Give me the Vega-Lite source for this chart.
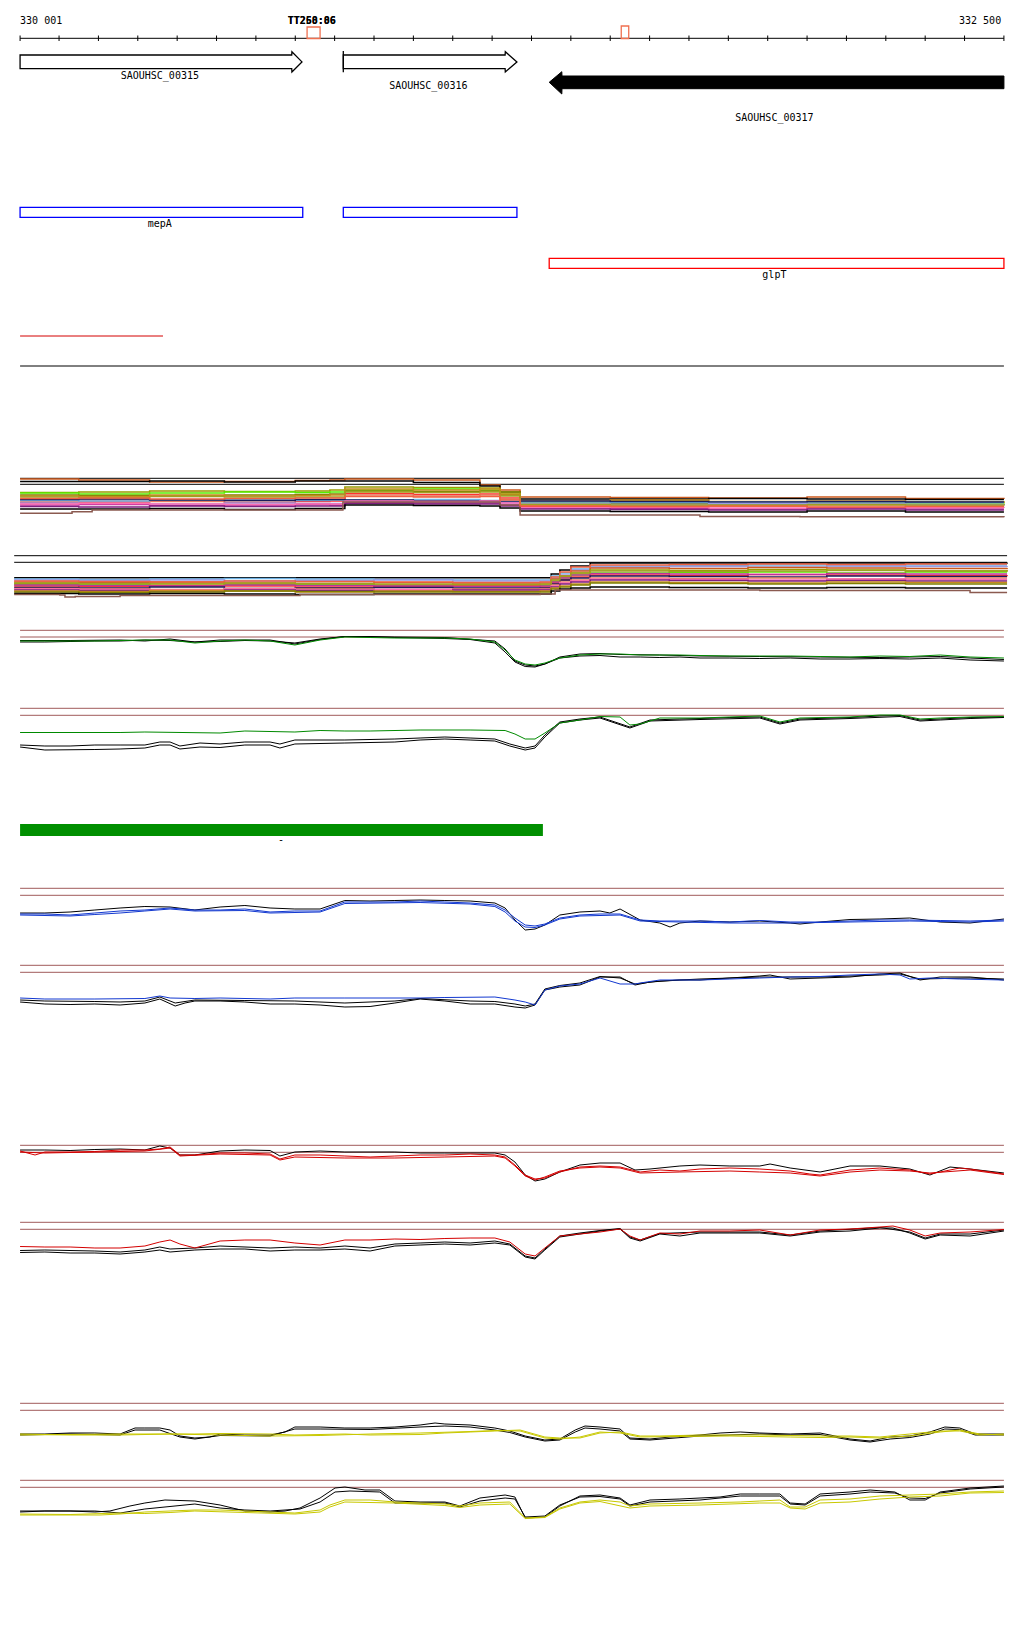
{
"$schema":"https://vega.github.io/schema/vega-lite/v6.json",
"width":1024,"height":1640,"padding":0,
"autosize":{"type":"fit","contains":"padding"},
"background":"white",
"config":{"view":{"stroke":null}},
"datasets":{
"hrules":[
{"k":"ctl","x":330001,"x2":332500,"y":38.3},
{"k":"c3","x":330001,"x2":330364,"y":336},
{"k":"ctl","x":330001,"x2":332500,"y":366},
{"k":"ctl","x":330001,"x2":332500,"y":478.3},
{"k":"ctl","x":330001,"x2":332500,"y":484.3},
{"k":"ctl","x":329986,"x2":332508,"y":555.7},
{"k":"ctl","x":329986,"x2":332508,"y":562.3},
{"k":"ref","x":330001,"x2":332500,"y":630.3},
{"k":"ref","x":330001,"x2":332500,"y":637},
{"k":"ref","x":330001,"x2":332500,"y":708.3},
{"k":"ref","x":330001,"x2":332500,"y":715.3},
{"k":"ref","x":330001,"x2":332500,"y":888.3},
{"k":"ref","x":330001,"x2":332500,"y":895.3},
{"k":"ref","x":330001,"x2":332500,"y":965.3},
{"k":"ref","x":330001,"x2":332500,"y":972.3},
{"k":"ref","x":330001,"x2":332500,"y":1145.3},
{"k":"ref","x":330001,"x2":332500,"y":1152.3},
{"k":"ref","x":330001,"x2":332500,"y":1222.3},
{"k":"ref","x":330001,"x2":332500,"y":1229.3},
{"k":"ref","x":330001,"x2":332500,"y":1403.3},
{"k":"ref","x":330001,"x2":332500,"y":1410.3},
{"k":"ref","x":330001,"x2":332500,"y":1480.3},
{"k":"ref","x":330001,"x2":332500,"y":1487.3}
],
"ticks":[{"x":330001,"y":35.5,"y2":41},{"x":330100,"y":35.5,"y2":41},{"x":330200,"y":35.5,"y2":41},{"x":330300,"y":35.5,"y2":41},{"x":330400,"y":35.5,"y2":41},{"x":330500,"y":35.5,"y2":41},{"x":330600,"y":35.5,"y2":41},{"x":330700,"y":35.5,"y2":41},{"x":330800,"y":35.5,"y2":41},{"x":330900,"y":35.5,"y2":41},{"x":331000,"y":35.5,"y2":41},{"x":331100,"y":35.5,"y2":41},{"x":331200,"y":35.5,"y2":41},{"x":331300,"y":35.5,"y2":41},{"x":331400,"y":35.5,"y2":41},{"x":331500,"y":35.5,"y2":41},{"x":331600,"y":35.5,"y2":41},{"x":331700,"y":35.5,"y2":41},{"x":331800,"y":35.5,"y2":41},{"x":331900,"y":35.5,"y2":41},{"x":332000,"y":35.5,"y2":41},{"x":332100,"y":35.5,"y2":41},{"x":332200,"y":35.5,"y2":41},{"x":332300,"y":35.5,"y2":41},{"x":332400,"y":35.5,"y2":41},{"x":332500,"y":35.5,"y2":41}],
"boxes":[
{"k":"ax","x":330730,"x2":330763,"y":27,"y2":38.5},
{"k":"ax","x":331528,"x2":331547,"y":26,"y2":38.5},
{"k":"bx","x":330001,"x2":330719,"y":207.3,"y2":217.3},
{"k":"bx","x":330822,"x2":331263,"y":207.3,"y2":217.3},
{"k":"rx","x":331345,"x2":332500,"y":258.3,"y2":268.3}
],
"bars":[{"x":330001,"x2":331329,"y":824,"y2":836}],
"openarrows":[
{"g":"a315","x":330001,"y":55,"y2":68.7},{"g":"a315","x":330691,"y":55,"y2":68.7},{"g":"a315","x":330691.5,"y":51.7,"y2":72},{"g":"a315","x":330717,"y":61.9,"y2":61.9},
{"g":"a316","x":330822,"y":55,"y2":68.7},{"g":"a316","x":331233,"y":55,"y2":68.7},{"g":"a316","x":331233.5,"y":51.7,"y2":72},{"g":"a316","x":331263,"y":61.9,"y2":61.9}
],
"filledarrows":[
{"g":"a317","x":331345,"y":82.3,"y2":82.3},{"g":"a317","x":331377,"y":71.7,"y2":94},{"g":"a317","x":331377.5,"y":76,"y2":88.7},{"g":"a317","x":332500,"y":76,"y2":88.7}
],
"vbars":[{"x":330822,"y":51,"y2":72.3}],
"labels":[
{"t":"SAOUHSC_00315","x":330356,"y":76},
{"t":"SAOUHSC_00316","x":331038,"y":85.5},
{"t":"SAOUHSC_00317","x":331917,"y":117.5},
{"t":"mepA","x":330356,"y":224},
{"t":"glpT","x":331917,"y":275},
{"t":"-","x":330664,"y":840}
],
"boldlabels":[{"t":"TT258:86","x":330742,"y":21},{"t":"TT260:06","x":330742,"y":21}],
"leftlabels":[{"t":"330 001","x":330001,"y":20.5}],
"rightlabels":[{"t":"332 500","x":332493,"y":20.5}],
"multi":[
{"s":"m1p1","k":"p1","x":330001,"y":479},{"s":"m1p1","k":"p1","x":330150,"y":480},{"s":"m1p1","k":"p1","x":330330,"y":482},{"s":"m1p1","k":"p1","x":330520,"y":481.5},{"s":"m1p1","k":"p1","x":330700,"y":480.5},{"s":"m1p1","k":"p1","x":330788,"y":480},{"s":"m1p1","k":"p1","x":330826,"y":479},{"s":"m1p1","k":"p1","x":331000,"y":480},{"s":"m1p1","k":"p1","x":331169,"y":485},{"s":"m1p1","k":"p1","x":331220,"y":490},{"s":"m1p1","k":"p1","x":331271,"y":497},{"s":"m1p1","k":"p1","x":331500,"y":497.5},{"s":"m1p1","k":"p1","x":331750,"y":498},{"s":"m1p1","k":"p1","x":332000,"y":497},{"s":"m1p1","k":"p1","x":332250,"y":498.5},{"s":"m1p1","k":"p1","x":332500,"y":499},
{"s":"m1p2","k":"ctl","x":330001,"y":481.5},{"s":"m1p2","k":"ctl","x":330150,"y":481.5},{"s":"m1p2","k":"ctl","x":330330,"y":481},{"s":"m1p2","k":"ctl","x":330520,"y":482},{"s":"m1p2","k":"ctl","x":330700,"y":481},{"s":"m1p2","k":"ctl","x":330788,"y":481},{"s":"m1p2","k":"ctl","x":330826,"y":481},{"s":"m1p2","k":"ctl","x":331000,"y":482.5},{"s":"m1p2","k":"ctl","x":331169,"y":486},{"s":"m1p2","k":"ctl","x":331220,"y":492},{"s":"m1p2","k":"ctl","x":331271,"y":499},{"s":"m1p2","k":"ctl","x":331500,"y":499},{"s":"m1p2","k":"ctl","x":331750,"y":498.5},{"s":"m1p2","k":"ctl","x":332000,"y":499},{"s":"m1p2","k":"ctl","x":332250,"y":499.5},{"s":"m1p2","k":"ctl","x":332500,"y":499.5},
{"s":"m1p3","k":"p3","x":330001,"y":492.5},{"s":"m1p3","k":"p3","x":330150,"y":492},{"s":"m1p3","k":"p3","x":330330,"y":491},{"s":"m1p3","k":"p3","x":330520,"y":491.5},{"s":"m1p3","k":"p3","x":330700,"y":491},{"s":"m1p3","k":"p3","x":330788,"y":490},{"s":"m1p3","k":"p3","x":330826,"y":487},{"s":"m1p3","k":"p3","x":331000,"y":487.5},{"s":"m1p3","k":"p3","x":331169,"y":488},{"s":"m1p3","k":"p3","x":331220,"y":492},{"s":"m1p3","k":"p3","x":331271,"y":502},{"s":"m1p3","k":"p3","x":331500,"y":501},{"s":"m1p3","k":"p3","x":331750,"y":502.5},{"s":"m1p3","k":"p3","x":332000,"y":503},{"s":"m1p3","k":"p3","x":332250,"y":502},{"s":"m1p3","k":"p3","x":332500,"y":503},
{"s":"m1p4","k":"p4","x":330001,"y":493},{"s":"m1p4","k":"p4","x":330150,"y":494},{"s":"m1p4","k":"p4","x":330330,"y":493},{"s":"m1p4","k":"p4","x":330520,"y":492},{"s":"m1p4","k":"p4","x":330700,"y":492.5},{"s":"m1p4","k":"p4","x":330788,"y":492},{"s":"m1p4","k":"p4","x":330826,"y":490},{"s":"m1p4","k":"p4","x":331000,"y":489},{"s":"m1p4","k":"p4","x":331169,"y":490},{"s":"m1p4","k":"p4","x":331220,"y":494},{"s":"m1p4","k":"p4","x":331271,"y":505},{"s":"m1p4","k":"p4","x":331500,"y":504},{"s":"m1p4","k":"p4","x":331750,"y":503.5},{"s":"m1p4","k":"p4","x":332000,"y":505},{"s":"m1p4","k":"p4","x":332250,"y":504},{"s":"m1p4","k":"p4","x":332500,"y":505},
{"s":"m1p5","k":"p5","x":330001,"y":495},{"s":"m1p5","k":"p5","x":330150,"y":495.5},{"s":"m1p5","k":"p5","x":330330,"y":496},{"s":"m1p5","k":"p5","x":330520,"y":495},{"s":"m1p5","k":"p5","x":330700,"y":494.5},{"s":"m1p5","k":"p5","x":330788,"y":494},{"s":"m1p5","k":"p5","x":330826,"y":491},{"s":"m1p5","k":"p5","x":331000,"y":491.5},{"s":"m1p5","k":"p5","x":331169,"y":491},{"s":"m1p5","k":"p5","x":331220,"y":495},{"s":"m1p5","k":"p5","x":331271,"y":503},{"s":"m1p5","k":"p5","x":331500,"y":503.5},{"s":"m1p5","k":"p5","x":331750,"y":504},{"s":"m1p5","k":"p5","x":332000,"y":503},{"s":"m1p5","k":"p5","x":332250,"y":504.5},{"s":"m1p5","k":"p5","x":332500,"y":504},
{"s":"m1p6","k":"p6","x":330001,"y":496},{"s":"m1p6","k":"p6","x":330150,"y":496.5},{"s":"m1p6","k":"p6","x":330330,"y":495},{"s":"m1p6","k":"p6","x":330520,"y":496},{"s":"m1p6","k":"p6","x":330700,"y":495.5},{"s":"m1p6","k":"p6","x":330788,"y":495},{"s":"m1p6","k":"p6","x":330826,"y":489},{"s":"m1p6","k":"p6","x":331000,"y":490},{"s":"m1p6","k":"p6","x":331169,"y":489},{"s":"m1p6","k":"p6","x":331220,"y":494},{"s":"m1p6","k":"p6","x":331271,"y":501},{"s":"m1p6","k":"p6","x":331500,"y":500},{"s":"m1p6","k":"p6","x":331750,"y":501.5},{"s":"m1p6","k":"p6","x":332000,"y":501},{"s":"m1p6","k":"p6","x":332250,"y":502},{"s":"m1p6","k":"p6","x":332500,"y":501.5},
{"s":"m1p7","k":"p7","x":330001,"y":502.5},{"s":"m1p7","k":"p7","x":330150,"y":502},{"s":"m1p7","k":"p7","x":330330,"y":501},{"s":"m1p7","k":"p7","x":330520,"y":502.5},{"s":"m1p7","k":"p7","x":330700,"y":501.5},{"s":"m1p7","k":"p7","x":330788,"y":501},{"s":"m1p7","k":"p7","x":330826,"y":493.5},{"s":"m1p7","k":"p7","x":331000,"y":494.5},{"s":"m1p7","k":"p7","x":331169,"y":494},{"s":"m1p7","k":"p7","x":331220,"y":498},{"s":"m1p7","k":"p7","x":331271,"y":506.5},{"s":"m1p7","k":"p7","x":331500,"y":507},{"s":"m1p7","k":"p7","x":331750,"y":506},{"s":"m1p7","k":"p7","x":332000,"y":507.5},{"s":"m1p7","k":"p7","x":332250,"y":507},{"s":"m1p7","k":"p7","x":332500,"y":507},
{"s":"m1p8","k":"p8","x":330001,"y":501},{"s":"m1p8","k":"p8","x":330150,"y":500},{"s":"m1p8","k":"p8","x":330330,"y":501.5},{"s":"m1p8","k":"p8","x":330520,"y":500.5},{"s":"m1p8","k":"p8","x":330700,"y":500},{"s":"m1p8","k":"p8","x":330788,"y":500},{"s":"m1p8","k":"p8","x":330826,"y":495},{"s":"m1p8","k":"p8","x":331000,"y":496},{"s":"m1p8","k":"p8","x":331169,"y":495},{"s":"m1p8","k":"p8","x":331220,"y":499},{"s":"m1p8","k":"p8","x":331271,"y":505},{"s":"m1p8","k":"p8","x":331500,"y":505.5},{"s":"m1p8","k":"p8","x":331750,"y":506},{"s":"m1p8","k":"p8","x":332000,"y":505},{"s":"m1p8","k":"p8","x":332250,"y":506},{"s":"m1p8","k":"p8","x":332500,"y":506},
{"s":"m1p9","k":"p9","x":330001,"y":500.5},{"s":"m1p9","k":"p9","x":330150,"y":501},{"s":"m1p9","k":"p9","x":330330,"y":500},{"s":"m1p9","k":"p9","x":330520,"y":499.5},{"s":"m1p9","k":"p9","x":330700,"y":500.5},{"s":"m1p9","k":"p9","x":330788,"y":500},{"s":"m1p9","k":"p9","x":330826,"y":500},{"s":"m1p9","k":"p9","x":331000,"y":499.5},{"s":"m1p9","k":"p9","x":331169,"y":500.5},{"s":"m1p9","k":"p9","x":331220,"y":501},{"s":"m1p9","k":"p9","x":331271,"y":502},{"s":"m1p9","k":"p9","x":331500,"y":502.5},{"s":"m1p9","k":"p9","x":331750,"y":502},{"s":"m1p9","k":"p9","x":332000,"y":503},{"s":"m1p9","k":"p9","x":332250,"y":502.5},{"s":"m1p9","k":"p9","x":332500,"y":502.5},
{"s":"m1p10","k":"p10","x":330001,"y":499.5},{"s":"m1p10","k":"p10","x":330150,"y":499},{"s":"m1p10","k":"p10","x":330330,"y":500},{"s":"m1p10","k":"p10","x":330520,"y":500.5},{"s":"m1p10","k":"p10","x":330700,"y":499.5},{"s":"m1p10","k":"p10","x":330788,"y":499.5},{"s":"m1p10","k":"p10","x":330826,"y":500},{"s":"m1p10","k":"p10","x":331000,"y":501},{"s":"m1p10","k":"p10","x":331169,"y":501},{"s":"m1p10","k":"p10","x":331220,"y":502},{"s":"m1p10","k":"p10","x":331271,"y":501},{"s":"m1p10","k":"p10","x":331500,"y":501.5},{"s":"m1p10","k":"p10","x":331750,"y":502},{"s":"m1p10","k":"p10","x":332000,"y":501.5},{"s":"m1p10","k":"p10","x":332250,"y":502},{"s":"m1p10","k":"p10","x":332500,"y":502},
{"s":"m1p11","k":"p11","x":330001,"y":503},{"s":"m1p11","k":"p11","x":330150,"y":503.5},{"s":"m1p11","k":"p11","x":330330,"y":504},{"s":"m1p11","k":"p11","x":330520,"y":503},{"s":"m1p11","k":"p11","x":330700,"y":503.5},{"s":"m1p11","k":"p11","x":330788,"y":503.5},{"s":"m1p11","k":"p11","x":330826,"y":502},{"s":"m1p11","k":"p11","x":331000,"y":502.5},{"s":"m1p11","k":"p11","x":331169,"y":502},{"s":"m1p11","k":"p11","x":331220,"y":503},{"s":"m1p11","k":"p11","x":331271,"y":504},{"s":"m1p11","k":"p11","x":331500,"y":504.5},{"s":"m1p11","k":"p11","x":331750,"y":503.5},{"s":"m1p11","k":"p11","x":332000,"y":504},{"s":"m1p11","k":"p11","x":332250,"y":504.5},{"s":"m1p11","k":"p11","x":332500,"y":504},
{"s":"m1p12","k":"p12","x":330001,"y":505},{"s":"m1p12","k":"p12","x":330150,"y":504.5},{"s":"m1p12","k":"p12","x":330330,"y":505.5},{"s":"m1p12","k":"p12","x":330520,"y":505},{"s":"m1p12","k":"p12","x":330700,"y":504.5},{"s":"m1p12","k":"p12","x":330788,"y":505},{"s":"m1p12","k":"p12","x":330826,"y":502.5},{"s":"m1p12","k":"p12","x":331000,"y":503},{"s":"m1p12","k":"p12","x":331169,"y":503},{"s":"m1p12","k":"p12","x":331220,"y":505},{"s":"m1p12","k":"p12","x":331271,"y":508},{"s":"m1p12","k":"p12","x":331500,"y":508.5},{"s":"m1p12","k":"p12","x":331750,"y":509},{"s":"m1p12","k":"p12","x":332000,"y":508},{"s":"m1p12","k":"p12","x":332250,"y":509},{"s":"m1p12","k":"p12","x":332500,"y":509},
{"s":"m1p13","k":"p13","x":330001,"y":504},{"s":"m1p13","k":"p13","x":330150,"y":503.5},{"s":"m1p13","k":"p13","x":330330,"y":504},{"s":"m1p13","k":"p13","x":330520,"y":504.5},{"s":"m1p13","k":"p13","x":330700,"y":504},{"s":"m1p13","k":"p13","x":330788,"y":504},{"s":"m1p13","k":"p13","x":330826,"y":501},{"s":"m1p13","k":"p13","x":331000,"y":501.5},{"s":"m1p13","k":"p13","x":331169,"y":501},{"s":"m1p13","k":"p13","x":331220,"y":503},{"s":"m1p13","k":"p13","x":331271,"y":507.5},{"s":"m1p13","k":"p13","x":331500,"y":507},{"s":"m1p13","k":"p13","x":331750,"y":508},{"s":"m1p13","k":"p13","x":332000,"y":508.5},{"s":"m1p13","k":"p13","x":332250,"y":507.5},{"s":"m1p13","k":"p13","x":332500,"y":508},
{"s":"m1p14","k":"p14","x":330001,"y":506.5},{"s":"m1p14","k":"p14","x":330150,"y":507},{"s":"m1p14","k":"p14","x":330330,"y":506},{"s":"m1p14","k":"p14","x":330520,"y":506.5},{"s":"m1p14","k":"p14","x":330700,"y":506},{"s":"m1p14","k":"p14","x":330788,"y":506},{"s":"m1p14","k":"p14","x":330826,"y":503.5},{"s":"m1p14","k":"p14","x":331000,"y":504},{"s":"m1p14","k":"p14","x":331169,"y":504},{"s":"m1p14","k":"p14","x":331220,"y":506},{"s":"m1p14","k":"p14","x":331271,"y":509},{"s":"m1p14","k":"p14","x":331500,"y":509.5},{"s":"m1p14","k":"p14","x":331750,"y":510},{"s":"m1p14","k":"p14","x":332000,"y":509},{"s":"m1p14","k":"p14","x":332250,"y":510},{"s":"m1p14","k":"p14","x":332500,"y":510},
{"s":"m1p15","k":"ctl","x":330001,"y":509},{"s":"m1p15","k":"ctl","x":330150,"y":509},{"s":"m1p15","k":"ctl","x":330330,"y":508.5},{"s":"m1p15","k":"ctl","x":330520,"y":509.5},{"s":"m1p15","k":"ctl","x":330700,"y":508.5},{"s":"m1p15","k":"ctl","x":330788,"y":508.5},{"s":"m1p15","k":"ctl","x":330826,"y":505},{"s":"m1p15","k":"ctl","x":331000,"y":505.5},{"s":"m1p15","k":"ctl","x":331169,"y":506},{"s":"m1p15","k":"ctl","x":331220,"y":508},{"s":"m1p15","k":"ctl","x":331271,"y":511},{"s":"m1p15","k":"ctl","x":331500,"y":511.5},{"s":"m1p15","k":"ctl","x":331750,"y":512},{"s":"m1p15","k":"ctl","x":332000,"y":511},{"s":"m1p15","k":"ctl","x":332250,"y":512},{"s":"m1p15","k":"ctl","x":332500,"y":512},
{"s":"m1p16","k":"p16","x":330001,"y":513.3},{"s":"m1p16","k":"p16","x":330123,"y":513.3},{"s":"m1p16","k":"p16","x":330133,"y":511.7},{"s":"m1p16","k":"p16","x":330179,"y":511.7},{"s":"m1p16","k":"p16","x":330184,"y":510},{"s":"m1p16","k":"p16","x":330788,"y":510},{"s":"m1p16","k":"p16","x":330821,"y":502},{"s":"m1p16","k":"p16","x":331169,"y":502},{"s":"m1p16","k":"p16","x":331220,"y":505},{"s":"m1p16","k":"p16","x":331271,"y":515},{"s":"m1p16","k":"p16","x":331728,"y":516.5},{"s":"m1p16","k":"p16","x":331982,"y":516.7},{"s":"m1p16","k":"p16","x":332500,"y":517.3},
{"s":"m1p17","k":"p17","x":330001,"y":497},{"s":"m1p17","k":"p17","x":330150,"y":497.5},{"s":"m1p17","k":"p17","x":330330,"y":496.5},{"s":"m1p17","k":"p17","x":330520,"y":497},{"s":"m1p17","k":"p17","x":330700,"y":497},{"s":"m1p17","k":"p17","x":330788,"y":497},{"s":"m1p17","k":"p17","x":330826,"y":492},{"s":"m1p17","k":"p17","x":331000,"y":492.5},{"s":"m1p17","k":"p17","x":331169,"y":492},{"s":"m1p17","k":"p17","x":331220,"y":496},{"s":"m1p17","k":"p17","x":331271,"y":504.5},{"s":"m1p17","k":"p17","x":331500,"y":505},{"s":"m1p17","k":"p17","x":331750,"y":505.5},{"s":"m1p17","k":"p17","x":332000,"y":504.5},{"s":"m1p17","k":"p17","x":332250,"y":505},{"s":"m1p17","k":"p17","x":332500,"y":505.5},
{"s":"m1p18","k":"p18","x":330001,"y":498.5},{"s":"m1p18","k":"p18","x":330150,"y":498},{"s":"m1p18","k":"p18","x":330330,"y":499},{"s":"m1p18","k":"p18","x":330520,"y":498.5},{"s":"m1p18","k":"p18","x":330700,"y":498},{"s":"m1p18","k":"p18","x":330788,"y":498},{"s":"m1p18","k":"p18","x":330826,"y":496.5},{"s":"m1p18","k":"p18","x":331000,"y":497},{"s":"m1p18","k":"p18","x":331169,"y":496.5},{"s":"m1p18","k":"p18","x":331220,"y":500},{"s":"m1p18","k":"p18","x":331271,"y":506},{"s":"m1p18","k":"p18","x":331500,"y":506.5},{"s":"m1p18","k":"p18","x":331750,"y":506},{"s":"m1p18","k":"p18","x":332000,"y":507},{"s":"m1p18","k":"p18","x":332250,"y":506.5},{"s":"m1p18","k":"p18","x":332500,"y":506.5},
{"s":"m2q1","k":"ctl","x":329986,"y":577.7},{"s":"m2q1","k":"ctl","x":331322,"y":577.7},{"s":"m2q1","k":"ctl","x":331350,"y":574},{"s":"m2q1","k":"ctl","x":331372,"y":570},{"s":"m2q1","k":"ctl","x":331400,"y":566},{"s":"m2q1","k":"ctl","x":331449,"y":563},{"s":"m2q1","k":"ctl","x":332508,"y":562.5},
{"s":"m2q2","k":"p9","x":329986,"y":579},{"s":"m2q2","k":"p9","x":330150,"y":579.5},{"s":"m2q2","k":"p9","x":330330,"y":579},{"s":"m2q2","k":"p9","x":330520,"y":578.5},{"s":"m2q2","k":"p9","x":330700,"y":579},{"s":"m2q2","k":"p9","x":330900,"y":579.5},{"s":"m2q2","k":"p9","x":331100,"y":580},{"s":"m2q2","k":"p9","x":331322,"y":580},{"s":"m2q2","k":"p9","x":331350,"y":576},{"s":"m2q2","k":"p9","x":331372,"y":573},{"s":"m2q2","k":"p9","x":331400,"y":569},{"s":"m2q2","k":"p9","x":331449,"y":566},{"s":"m2q2","k":"p9","x":331650,"y":565.5},{"s":"m2q2","k":"p9","x":331850,"y":565},{"s":"m2q2","k":"p9","x":332050,"y":566},{"s":"m2q2","k":"p9","x":332250,"y":565},{"s":"m2q2","k":"p9","x":332508,"y":565},
{"s":"m2q3","k":"p11","x":329986,"y":580},{"s":"m2q3","k":"p11","x":330150,"y":580.5},{"s":"m2q3","k":"p11","x":330330,"y":580},{"s":"m2q3","k":"p11","x":330520,"y":581},{"s":"m2q3","k":"p11","x":330700,"y":580.5},{"s":"m2q3","k":"p11","x":330900,"y":580},{"s":"m2q3","k":"p11","x":331100,"y":581},{"s":"m2q3","k":"p11","x":331322,"y":581},{"s":"m2q3","k":"p11","x":331350,"y":578},{"s":"m2q3","k":"p11","x":331372,"y":575},{"s":"m2q3","k":"p11","x":331400,"y":570},{"s":"m2q3","k":"p11","x":331449,"y":567},{"s":"m2q3","k":"p11","x":331650,"y":566.5},{"s":"m2q3","k":"p11","x":331850,"y":567},{"s":"m2q3","k":"p11","x":332050,"y":566},{"s":"m2q3","k":"p11","x":332250,"y":566.5},{"s":"m2q3","k":"p11","x":332508,"y":566},
{"s":"m2q4","k":"p1","x":329986,"y":582},{"s":"m2q4","k":"p1","x":330150,"y":582.5},{"s":"m2q4","k":"p1","x":330330,"y":582},{"s":"m2q4","k":"p1","x":330520,"y":583},{"s":"m2q4","k":"p1","x":330700,"y":583.5},{"s":"m2q4","k":"p1","x":330900,"y":582.5},{"s":"m2q4","k":"p1","x":331100,"y":583},{"s":"m2q4","k":"p1","x":331322,"y":583},{"s":"m2q4","k":"p1","x":331350,"y":579},{"s":"m2q4","k":"p1","x":331372,"y":576},{"s":"m2q4","k":"p1","x":331400,"y":571},{"s":"m2q4","k":"p1","x":331449,"y":568},{"s":"m2q4","k":"p1","x":331650,"y":568.5},{"s":"m2q4","k":"p1","x":331850,"y":567.5},{"s":"m2q4","k":"p1","x":332050,"y":568},{"s":"m2q4","k":"p1","x":332250,"y":568.5},{"s":"m2q4","k":"p1","x":332508,"y":568},
{"s":"m2q5","k":"p3","x":329986,"y":583.5},{"s":"m2q5","k":"p3","x":330150,"y":584},{"s":"m2q5","k":"p3","x":330330,"y":583},{"s":"m2q5","k":"p3","x":330520,"y":584.5},{"s":"m2q5","k":"p3","x":330700,"y":584},{"s":"m2q5","k":"p3","x":330900,"y":585},{"s":"m2q5","k":"p3","x":331100,"y":584.5},{"s":"m2q5","k":"p3","x":331322,"y":585},{"s":"m2q5","k":"p3","x":331350,"y":581},{"s":"m2q5","k":"p3","x":331372,"y":577},{"s":"m2q5","k":"p3","x":331400,"y":573},{"s":"m2q5","k":"p3","x":331449,"y":570},{"s":"m2q5","k":"p3","x":331650,"y":570.5},{"s":"m2q5","k":"p3","x":331850,"y":569.5},{"s":"m2q5","k":"p3","x":332050,"y":570},{"s":"m2q5","k":"p3","x":332250,"y":571},{"s":"m2q5","k":"p3","x":332508,"y":570},
{"s":"m2q6","k":"p4","x":329986,"y":584.5},{"s":"m2q6","k":"p4","x":330150,"y":585},{"s":"m2q6","k":"p4","x":330330,"y":585.5},{"s":"m2q6","k":"p4","x":330520,"y":584.5},{"s":"m2q6","k":"p4","x":330700,"y":585},{"s":"m2q6","k":"p4","x":330900,"y":586},{"s":"m2q6","k":"p4","x":331100,"y":585},{"s":"m2q6","k":"p4","x":331322,"y":585.5},{"s":"m2q6","k":"p4","x":331350,"y":582},{"s":"m2q6","k":"p4","x":331372,"y":579},{"s":"m2q6","k":"p4","x":331400,"y":575},{"s":"m2q6","k":"p4","x":331449,"y":573},{"s":"m2q6","k":"p4","x":331650,"y":572.5},{"s":"m2q6","k":"p4","x":331850,"y":572},{"s":"m2q6","k":"p4","x":332050,"y":573},{"s":"m2q6","k":"p4","x":332250,"y":572},{"s":"m2q6","k":"p4","x":332508,"y":572},
{"s":"m2q7","k":"p7","x":329986,"y":586},{"s":"m2q7","k":"p7","x":330150,"y":586.5},{"s":"m2q7","k":"p7","x":330330,"y":585.5},{"s":"m2q7","k":"p7","x":330520,"y":586},{"s":"m2q7","k":"p7","x":330700,"y":587},{"s":"m2q7","k":"p7","x":330900,"y":586.5},{"s":"m2q7","k":"p7","x":331100,"y":586},{"s":"m2q7","k":"p7","x":331322,"y":587},{"s":"m2q7","k":"p7","x":331350,"y":583},{"s":"m2q7","k":"p7","x":331372,"y":580},{"s":"m2q7","k":"p7","x":331400,"y":577},{"s":"m2q7","k":"p7","x":331449,"y":575},{"s":"m2q7","k":"p7","x":331650,"y":575.5},{"s":"m2q7","k":"p7","x":331850,"y":574.5},{"s":"m2q7","k":"p7","x":332050,"y":575},{"s":"m2q7","k":"p7","x":332250,"y":575.5},{"s":"m2q7","k":"p7","x":332508,"y":575},
{"s":"m2q8","k":"p12","x":329986,"y":585},{"s":"m2q8","k":"p12","x":330150,"y":585.5},{"s":"m2q8","k":"p12","x":330330,"y":586},{"s":"m2q8","k":"p12","x":330520,"y":585},{"s":"m2q8","k":"p12","x":330700,"y":585.5},{"s":"m2q8","k":"p12","x":330900,"y":586},{"s":"m2q8","k":"p12","x":331100,"y":586.5},{"s":"m2q8","k":"p12","x":331322,"y":586},{"s":"m2q8","k":"p12","x":331350,"y":582},{"s":"m2q8","k":"p12","x":331372,"y":578},{"s":"m2q8","k":"p12","x":331400,"y":575},{"s":"m2q8","k":"p12","x":331449,"y":573.5},{"s":"m2q8","k":"p12","x":331650,"y":574},{"s":"m2q8","k":"p12","x":331850,"y":574.5},{"s":"m2q8","k":"p12","x":332050,"y":573.5},{"s":"m2q8","k":"p12","x":332250,"y":574},{"s":"m2q8","k":"p12","x":332508,"y":574},
{"s":"m2q9","k":"p10","x":329986,"y":587.5},{"s":"m2q9","k":"p10","x":330150,"y":588},{"s":"m2q9","k":"p10","x":330330,"y":587},{"s":"m2q9","k":"p10","x":330520,"y":588.5},{"s":"m2q9","k":"p10","x":330700,"y":588},{"s":"m2q9","k":"p10","x":330900,"y":587.5},{"s":"m2q9","k":"p10","x":331100,"y":588},{"s":"m2q9","k":"p10","x":331322,"y":588},{"s":"m2q9","k":"p10","x":331350,"y":584},{"s":"m2q9","k":"p10","x":331372,"y":580},{"s":"m2q9","k":"p10","x":331400,"y":578},{"s":"m2q9","k":"p10","x":331449,"y":576},{"s":"m2q9","k":"p10","x":331650,"y":576.5},{"s":"m2q9","k":"p10","x":331850,"y":577},{"s":"m2q9","k":"p10","x":332050,"y":576},{"s":"m2q9","k":"p10","x":332250,"y":576.5},{"s":"m2q9","k":"p10","x":332508,"y":576.5},
{"s":"m2q10","k":"p8","x":329986,"y":588.5},{"s":"m2q10","k":"p8","x":330150,"y":589},{"s":"m2q10","k":"p8","x":330330,"y":589.5},{"s":"m2q10","k":"p8","x":330520,"y":588.5},{"s":"m2q10","k":"p8","x":330700,"y":589},{"s":"m2q10","k":"p8","x":330900,"y":589.5},{"s":"m2q10","k":"p8","x":331100,"y":589},{"s":"m2q10","k":"p8","x":331322,"y":589},{"s":"m2q10","k":"p8","x":331350,"y":585},{"s":"m2q10","k":"p8","x":331372,"y":582},{"s":"m2q10","k":"p8","x":331400,"y":580},{"s":"m2q10","k":"p8","x":331449,"y":578},{"s":"m2q10","k":"p8","x":331650,"y":578.5},{"s":"m2q10","k":"p8","x":331850,"y":578},{"s":"m2q10","k":"p8","x":332050,"y":579},{"s":"m2q10","k":"p8","x":332250,"y":578},{"s":"m2q10","k":"p8","x":332508,"y":578},
{"s":"m2q11","k":"p13","x":329986,"y":589},{"s":"m2q11","k":"p13","x":330150,"y":589.5},{"s":"m2q11","k":"p13","x":330330,"y":590},{"s":"m2q11","k":"p13","x":330520,"y":589},{"s":"m2q11","k":"p13","x":330700,"y":590},{"s":"m2q11","k":"p13","x":330900,"y":589.5},{"s":"m2q11","k":"p13","x":331100,"y":590},{"s":"m2q11","k":"p13","x":331322,"y":589.5},{"s":"m2q11","k":"p13","x":331350,"y":586},{"s":"m2q11","k":"p13","x":331372,"y":583},{"s":"m2q11","k":"p13","x":331400,"y":581},{"s":"m2q11","k":"p13","x":331449,"y":579},{"s":"m2q11","k":"p13","x":331650,"y":579.5},{"s":"m2q11","k":"p13","x":331850,"y":580},{"s":"m2q11","k":"p13","x":332050,"y":579},{"s":"m2q11","k":"p13","x":332250,"y":579.5},{"s":"m2q11","k":"p13","x":332508,"y":579.5},
{"s":"m2q12","k":"p14","x":329986,"y":590},{"s":"m2q12","k":"p14","x":330150,"y":590.5},{"s":"m2q12","k":"p14","x":330330,"y":591},{"s":"m2q12","k":"p14","x":330520,"y":590},{"s":"m2q12","k":"p14","x":330700,"y":590.5},{"s":"m2q12","k":"p14","x":330900,"y":591},{"s":"m2q12","k":"p14","x":331100,"y":590},{"s":"m2q12","k":"p14","x":331322,"y":590},{"s":"m2q12","k":"p14","x":331350,"y":587},{"s":"m2q12","k":"p14","x":331372,"y":584},{"s":"m2q12","k":"p14","x":331400,"y":582},{"s":"m2q12","k":"p14","x":331449,"y":580},{"s":"m2q12","k":"p14","x":331650,"y":580.5},{"s":"m2q12","k":"p14","x":331850,"y":581},{"s":"m2q12","k":"p14","x":332050,"y":580.5},{"s":"m2q12","k":"p14","x":332250,"y":581},{"s":"m2q12","k":"p14","x":332508,"y":581},
{"s":"m2q13","k":"p6","x":329986,"y":591},{"s":"m2q13","k":"p6","x":330150,"y":591.5},{"s":"m2q13","k":"p6","x":330330,"y":590.5},{"s":"m2q13","k":"p6","x":330520,"y":591},{"s":"m2q13","k":"p6","x":330700,"y":592},{"s":"m2q13","k":"p6","x":330900,"y":591},{"s":"m2q13","k":"p6","x":331100,"y":591.5},{"s":"m2q13","k":"p6","x":331322,"y":591},{"s":"m2q13","k":"p6","x":331350,"y":588},{"s":"m2q13","k":"p6","x":331372,"y":586},{"s":"m2q13","k":"p6","x":331400,"y":584},{"s":"m2q13","k":"p6","x":331449,"y":582},{"s":"m2q13","k":"p6","x":331650,"y":582.5},{"s":"m2q13","k":"p6","x":331850,"y":583},{"s":"m2q13","k":"p6","x":332050,"y":582},{"s":"m2q13","k":"p6","x":332250,"y":582.5},{"s":"m2q13","k":"p6","x":332508,"y":582.5},
{"s":"m2q14","k":"p5","x":329986,"y":592},{"s":"m2q14","k":"p5","x":330150,"y":592.5},{"s":"m2q14","k":"p5","x":330330,"y":592},{"s":"m2q14","k":"p5","x":330520,"y":591},{"s":"m2q14","k":"p5","x":330700,"y":591.5},{"s":"m2q14","k":"p5","x":330900,"y":592},{"s":"m2q14","k":"p5","x":331100,"y":592},{"s":"m2q14","k":"p5","x":331322,"y":592},{"s":"m2q14","k":"p5","x":331350,"y":589},{"s":"m2q14","k":"p5","x":331372,"y":587},{"s":"m2q14","k":"p5","x":331400,"y":585},{"s":"m2q14","k":"p5","x":331449,"y":583},{"s":"m2q14","k":"p5","x":331650,"y":583.5},{"s":"m2q14","k":"p5","x":331850,"y":584},{"s":"m2q14","k":"p5","x":332050,"y":583.5},{"s":"m2q14","k":"p5","x":332250,"y":584},{"s":"m2q14","k":"p5","x":332508,"y":584},
{"s":"m2q15","k":"p18","x":329986,"y":581},{"s":"m2q15","k":"p18","x":330150,"y":581.5},{"s":"m2q15","k":"p18","x":330330,"y":582},{"s":"m2q15","k":"p18","x":330520,"y":581},{"s":"m2q15","k":"p18","x":330700,"y":581.5},{"s":"m2q15","k":"p18","x":330900,"y":582},{"s":"m2q15","k":"p18","x":331100,"y":582.5},{"s":"m2q15","k":"p18","x":331322,"y":582},{"s":"m2q15","k":"p18","x":331350,"y":577},{"s":"m2q15","k":"p18","x":331372,"y":572},{"s":"m2q15","k":"p18","x":331400,"y":567},{"s":"m2q15","k":"p18","x":331449,"y":565},{"s":"m2q15","k":"p18","x":331650,"y":564.5},{"s":"m2q15","k":"p18","x":331850,"y":564},{"s":"m2q15","k":"p18","x":332050,"y":564.5},{"s":"m2q15","k":"p18","x":332250,"y":564},{"s":"m2q15","k":"p18","x":332508,"y":564},
{"s":"m2q16","k":"ctl","x":329986,"y":593.5},{"s":"m2q16","k":"ctl","x":330150,"y":594},{"s":"m2q16","k":"ctl","x":330330,"y":593.5},{"s":"m2q16","k":"ctl","x":330520,"y":594},{"s":"m2q16","k":"ctl","x":330700,"y":594.5},{"s":"m2q16","k":"ctl","x":330900,"y":594},{"s":"m2q16","k":"ctl","x":331100,"y":594},{"s":"m2q16","k":"ctl","x":331322,"y":594},{"s":"m2q16","k":"ctl","x":331350,"y":591},{"s":"m2q16","k":"ctl","x":331372,"y":589},{"s":"m2q16","k":"ctl","x":331400,"y":588},{"s":"m2q16","k":"ctl","x":331449,"y":587},{"s":"m2q16","k":"ctl","x":331650,"y":587.5},{"s":"m2q16","k":"ctl","x":331850,"y":588},{"s":"m2q16","k":"ctl","x":332050,"y":587.5},{"s":"m2q16","k":"ctl","x":332250,"y":588},{"s":"m2q16","k":"ctl","x":332508,"y":588},
{"s":"m2q17","k":"p16","x":329986,"y":594.5},{"s":"m2q17","k":"p16","x":330102,"y":595},{"s":"m2q17","k":"p16","x":330115,"y":597},{"s":"m2q17","k":"p16","x":330141,"y":596.5},{"s":"m2q17","k":"p16","x":330255,"y":595.5},{"s":"m2q17","k":"p16","x":330458,"y":595.5},{"s":"m2q17","k":"p16","x":330712,"y":594.5},{"s":"m2q17","k":"p16","x":331322,"y":594},{"s":"m2q17","k":"p16","x":331360,"y":590},{"s":"m2q17","k":"p16","x":331449,"y":590},{"s":"m2q17","k":"p16","x":331728,"y":590},{"s":"m2q17","k":"p16","x":331880,"y":590.5},{"s":"m2q17","k":"p16","x":332388,"y":590.5},{"s":"m2q17","k":"p16","x":332414,"y":592.5},{"s":"m2q17","k":"p16","x":332508,"y":592.5},
{"s":"m2q18","k":"p17","x":329986,"y":583},{"s":"m2q18","k":"p17","x":330150,"y":583.5},{"s":"m2q18","k":"p17","x":330330,"y":584},{"s":"m2q18","k":"p17","x":330520,"y":583},{"s":"m2q18","k":"p17","x":330700,"y":583.5},{"s":"m2q18","k":"p17","x":330900,"y":584},{"s":"m2q18","k":"p17","x":331100,"y":584.5},{"s":"m2q18","k":"p17","x":331322,"y":584},{"s":"m2q18","k":"p17","x":331350,"y":580},{"s":"m2q18","k":"p17","x":331372,"y":576},{"s":"m2q18","k":"p17","x":331400,"y":573},{"s":"m2q18","k":"p17","x":331449,"y":571},{"s":"m2q18","k":"p17","x":331650,"y":571.5},{"s":"m2q18","k":"p17","x":331850,"y":571},{"s":"m2q18","k":"p17","x":332050,"y":570.5},{"s":"m2q18","k":"p17","x":332250,"y":571},{"s":"m2q18","k":"p17","x":332508,"y":571}
],
"sig":[
{"s":"gA2","k":"ctl","x":330001,"y":642},{"s":"gA2","k":"ctl","x":330064,"y":642},{"s":"gA2","k":"ctl","x":330128,"y":641.5},{"s":"gA2","k":"ctl","x":330191,"y":641},{"s":"gA2","k":"ctl","x":330255,"y":641},{"s":"gA2","k":"ctl","x":330318,"y":640},{"s":"gA2","k":"ctl","x":330382,"y":640.5},{"s":"gA2","k":"ctl","x":330445,"y":642},{"s":"gA2","k":"ctl","x":330509,"y":641.5},{"s":"gA2","k":"ctl","x":330572,"y":640.5},{"s":"gA2","k":"ctl","x":330636,"y":641},{"s":"gA2","k":"ctl","x":330699,"y":643},{"s":"gA2","k":"ctl","x":330763,"y":639},{"s":"gA2","k":"ctl","x":330826,"y":636.5},{"s":"gA2","k":"ctl","x":330890,"y":636.5},{"s":"gA2","k":"ctl","x":330953,"y":637.5},{"s":"gA2","k":"ctl","x":331017,"y":638},{"s":"gA2","k":"ctl","x":331080,"y":638.5},{"s":"gA2","k":"ctl","x":331144,"y":639.5},{"s":"gA2","k":"ctl","x":331207,"y":643},{"s":"gA2","k":"ctl","x":331233,"y":652},{"s":"gA2","k":"ctl","x":331258,"y":662},{"s":"gA2","k":"ctl","x":331284,"y":666.5},{"s":"gA2","k":"ctl","x":331309,"y":667},{"s":"gA2","k":"ctl","x":331334,"y":664},{"s":"gA2","k":"ctl","x":331372,"y":658},{"s":"gA2","k":"ctl","x":331423,"y":656},{"s":"gA2","k":"ctl","x":331474,"y":655.5},{"s":"gA2","k":"ctl","x":331525,"y":657},{"s":"gA2","k":"ctl","x":331576,"y":657},{"s":"gA2","k":"ctl","x":331626,"y":657.5},{"s":"gA2","k":"ctl","x":331677,"y":657},{"s":"gA2","k":"ctl","x":331728,"y":658},{"s":"gA2","k":"ctl","x":331804,"y":658},{"s":"gA2","k":"ctl","x":331880,"y":658.5},{"s":"gA2","k":"ctl","x":331957,"y":658},{"s":"gA2","k":"ctl","x":332033,"y":659},{"s":"gA2","k":"ctl","x":332109,"y":659},{"s":"gA2","k":"ctl","x":332185,"y":658.5},{"s":"gA2","k":"ctl","x":332261,"y":659},{"s":"gA2","k":"ctl","x":332338,"y":658},{"s":"gA2","k":"ctl","x":332414,"y":660},{"s":"gA2","k":"ctl","x":332500,"y":661},
{"s":"gA3","k":"ctl","x":330001,"y":640.5},{"s":"gA3","k":"ctl","x":330128,"y":640.5},{"s":"gA3","k":"ctl","x":330255,"y":640},{"s":"gA3","k":"ctl","x":330318,"y":641},{"s":"gA3","k":"ctl","x":330382,"y":639},{"s":"gA3","k":"ctl","x":330445,"y":642},{"s":"gA3","k":"ctl","x":330509,"y":640},{"s":"gA3","k":"ctl","x":330636,"y":640},{"s":"gA3","k":"ctl","x":330699,"y":644},{"s":"gA3","k":"ctl","x":330763,"y":639.5},{"s":"gA3","k":"ctl","x":330826,"y":636.5},{"s":"gA3","k":"ctl","x":330953,"y":637},{"s":"gA3","k":"ctl","x":331080,"y":637.5},{"s":"gA3","k":"ctl","x":331207,"y":641},{"s":"gA3","k":"ctl","x":331233,"y":649},{"s":"gA3","k":"ctl","x":331258,"y":661},{"s":"gA3","k":"ctl","x":331284,"y":665},{"s":"gA3","k":"ctl","x":331309,"y":666},{"s":"gA3","k":"ctl","x":331334,"y":664},{"s":"gA3","k":"ctl","x":331372,"y":657},{"s":"gA3","k":"ctl","x":331423,"y":654},{"s":"gA3","k":"ctl","x":331474,"y":653.5},{"s":"gA3","k":"ctl","x":331525,"y":654.5},{"s":"gA3","k":"ctl","x":331626,"y":655},{"s":"gA3","k":"ctl","x":331728,"y":656},{"s":"gA3","k":"ctl","x":331880,"y":656.5},{"s":"gA3","k":"ctl","x":332033,"y":657},{"s":"gA3","k":"ctl","x":332185,"y":657.5},{"s":"gA3","k":"ctl","x":332338,"y":656.5},{"s":"gA3","k":"ctl","x":332414,"y":658},{"s":"gA3","k":"ctl","x":332500,"y":659.5},
{"s":"gA1","k":"c1","x":330001,"y":641},{"s":"gA1","k":"c1","x":330064,"y":641},{"s":"gA1","k":"c1","x":330128,"y":641},{"s":"gA1","k":"c1","x":330191,"y":641},{"s":"gA1","k":"c1","x":330255,"y":640.5},{"s":"gA1","k":"c1","x":330318,"y":640},{"s":"gA1","k":"c1","x":330382,"y":640},{"s":"gA1","k":"c1","x":330445,"y":643},{"s":"gA1","k":"c1","x":330509,"y":641},{"s":"gA1","k":"c1","x":330572,"y":640},{"s":"gA1","k":"c1","x":330636,"y":641},{"s":"gA1","k":"c1","x":330699,"y":645},{"s":"gA1","k":"c1","x":330763,"y":640},{"s":"gA1","k":"c1","x":330826,"y":637},{"s":"gA1","k":"c1","x":330890,"y":637.5},{"s":"gA1","k":"c1","x":330953,"y":638},{"s":"gA1","k":"c1","x":331017,"y":638},{"s":"gA1","k":"c1","x":331080,"y":638},{"s":"gA1","k":"c1","x":331144,"y":639},{"s":"gA1","k":"c1","x":331207,"y":642},{"s":"gA1","k":"c1","x":331233,"y":650},{"s":"gA1","k":"c1","x":331258,"y":660},{"s":"gA1","k":"c1","x":331284,"y":664},{"s":"gA1","k":"c1","x":331309,"y":665},{"s":"gA1","k":"c1","x":331334,"y":663},{"s":"gA1","k":"c1","x":331372,"y":658},{"s":"gA1","k":"c1","x":331423,"y":655},{"s":"gA1","k":"c1","x":331474,"y":654},{"s":"gA1","k":"c1","x":331525,"y":654},{"s":"gA1","k":"c1","x":331576,"y":655},{"s":"gA1","k":"c1","x":331626,"y":655},{"s":"gA1","k":"c1","x":331677,"y":655},{"s":"gA1","k":"c1","x":331728,"y":655.5},{"s":"gA1","k":"c1","x":331804,"y":656},{"s":"gA1","k":"c1","x":331880,"y":656},{"s":"gA1","k":"c1","x":331957,"y":656},{"s":"gA1","k":"c1","x":332033,"y":656.5},{"s":"gA1","k":"c1","x":332109,"y":657},{"s":"gA1","k":"c1","x":332185,"y":656},{"s":"gA1","k":"c1","x":332261,"y":656.5},{"s":"gA1","k":"c1","x":332338,"y":655},{"s":"gA1","k":"c1","x":332414,"y":657},{"s":"gA1","k":"c1","x":332500,"y":658},
{"s":"gB2","k":"ctl","x":330001,"y":745},{"s":"gB2","k":"ctl","x":330064,"y":746},{"s":"gB2","k":"ctl","x":330128,"y":746},{"s":"gB2","k":"ctl","x":330191,"y":745},{"s":"gB2","k":"ctl","x":330255,"y":745},{"s":"gB2","k":"ctl","x":330318,"y":745},{"s":"gB2","k":"ctl","x":330356,"y":742},{"s":"gB2","k":"ctl","x":330382,"y":742},{"s":"gB2","k":"ctl","x":330407,"y":746},{"s":"gB2","k":"ctl","x":330458,"y":743},{"s":"gB2","k":"ctl","x":330509,"y":744},{"s":"gB2","k":"ctl","x":330572,"y":742},{"s":"gB2","k":"ctl","x":330636,"y":742},{"s":"gB2","k":"ctl","x":330661,"y":744},{"s":"gB2","k":"ctl","x":330699,"y":740},{"s":"gB2","k":"ctl","x":330826,"y":740},{"s":"gB2","k":"ctl","x":330953,"y":739},{"s":"gB2","k":"ctl","x":331017,"y":738},{"s":"gB2","k":"ctl","x":331080,"y":737},{"s":"gB2","k":"ctl","x":331144,"y":738},{"s":"gB2","k":"ctl","x":331207,"y":739},{"s":"gB2","k":"ctl","x":331245,"y":744},{"s":"gB2","k":"ctl","x":331284,"y":748},{"s":"gB2","k":"ctl","x":331309,"y":746},{"s":"gB2","k":"ctl","x":331334,"y":735},{"s":"gB2","k":"ctl","x":331372,"y":722},{"s":"gB2","k":"ctl","x":331423,"y":719},{"s":"gB2","k":"ctl","x":331474,"y":717},{"s":"gB2","k":"ctl","x":331550,"y":727},{"s":"gB2","k":"ctl","x":331601,"y":720},{"s":"gB2","k":"ctl","x":331677,"y":719},{"s":"gB2","k":"ctl","x":331728,"y":718.5},{"s":"gB2","k":"ctl","x":331804,"y":717.5},{"s":"gB2","k":"ctl","x":331880,"y":717},{"s":"gB2","k":"ctl","x":331931,"y":723},{"s":"gB2","k":"ctl","x":331982,"y":719},{"s":"gB2","k":"ctl","x":332109,"y":717.5},{"s":"gB2","k":"ctl","x":332185,"y":716},{"s":"gB2","k":"ctl","x":332236,"y":715.5},{"s":"gB2","k":"ctl","x":332287,"y":720},{"s":"gB2","k":"ctl","x":332338,"y":719},{"s":"gB2","k":"ctl","x":332414,"y":717.5},{"s":"gB2","k":"ctl","x":332500,"y":717},
{"s":"gB3","k":"ctl","x":330001,"y":747},{"s":"gB3","k":"ctl","x":330064,"y":750},{"s":"gB3","k":"ctl","x":330191,"y":749.5},{"s":"gB3","k":"ctl","x":330255,"y":749},{"s":"gB3","k":"ctl","x":330318,"y":748},{"s":"gB3","k":"ctl","x":330356,"y":745},{"s":"gB3","k":"ctl","x":330382,"y":745},{"s":"gB3","k":"ctl","x":330407,"y":749},{"s":"gB3","k":"ctl","x":330458,"y":747},{"s":"gB3","k":"ctl","x":330509,"y":747.5},{"s":"gB3","k":"ctl","x":330572,"y":745},{"s":"gB3","k":"ctl","x":330636,"y":745},{"s":"gB3","k":"ctl","x":330661,"y":748},{"s":"gB3","k":"ctl","x":330699,"y":744},{"s":"gB3","k":"ctl","x":330826,"y":743},{"s":"gB3","k":"ctl","x":330953,"y":742},{"s":"gB3","k":"ctl","x":331017,"y":740},{"s":"gB3","k":"ctl","x":331080,"y":739},{"s":"gB3","k":"ctl","x":331144,"y":740},{"s":"gB3","k":"ctl","x":331207,"y":741},{"s":"gB3","k":"ctl","x":331245,"y":746},{"s":"gB3","k":"ctl","x":331284,"y":750},{"s":"gB3","k":"ctl","x":331309,"y":748},{"s":"gB3","k":"ctl","x":331334,"y":737},{"s":"gB3","k":"ctl","x":331372,"y":723},{"s":"gB3","k":"ctl","x":331423,"y":720},{"s":"gB3","k":"ctl","x":331474,"y":718},{"s":"gB3","k":"ctl","x":331550,"y":728},{"s":"gB3","k":"ctl","x":331601,"y":721},{"s":"gB3","k":"ctl","x":331728,"y":719.5},{"s":"gB3","k":"ctl","x":331880,"y":718},{"s":"gB3","k":"ctl","x":331931,"y":724},{"s":"gB3","k":"ctl","x":331982,"y":720},{"s":"gB3","k":"ctl","x":332109,"y":718.5},{"s":"gB3","k":"ctl","x":332236,"y":716.5},{"s":"gB3","k":"ctl","x":332287,"y":721},{"s":"gB3","k":"ctl","x":332338,"y":720},{"s":"gB3","k":"ctl","x":332414,"y":718.5},{"s":"gB3","k":"ctl","x":332500,"y":717.5},
{"s":"gB1","k":"c1","x":330001,"y":732.5},{"s":"gB1","k":"c1","x":330255,"y":732.5},{"s":"gB1","k":"c1","x":330318,"y":732},{"s":"gB1","k":"c1","x":330509,"y":733},{"s":"gB1","k":"c1","x":330572,"y":731},{"s":"gB1","k":"c1","x":330699,"y":732},{"s":"gB1","k":"c1","x":330763,"y":730.5},{"s":"gB1","k":"c1","x":330826,"y":731},{"s":"gB1","k":"c1","x":330890,"y":731},{"s":"gB1","k":"c1","x":331017,"y":730},{"s":"gB1","k":"c1","x":331144,"y":730},{"s":"gB1","k":"c1","x":331233,"y":730.5},{"s":"gB1","k":"c1","x":331258,"y":734},{"s":"gB1","k":"c1","x":331284,"y":739},{"s":"gB1","k":"c1","x":331309,"y":739},{"s":"gB1","k":"c1","x":331334,"y":733},{"s":"gB1","k":"c1","x":331372,"y":723},{"s":"gB1","k":"c1","x":331423,"y":720},{"s":"gB1","k":"c1","x":331474,"y":716.5},{"s":"gB1","k":"c1","x":331525,"y":717},{"s":"gB1","k":"c1","x":331550,"y":725},{"s":"gB1","k":"c1","x":331576,"y":724},{"s":"gB1","k":"c1","x":331626,"y":718},{"s":"gB1","k":"c1","x":331728,"y":718},{"s":"gB1","k":"c1","x":331804,"y":717},{"s":"gB1","k":"c1","x":331880,"y":716},{"s":"gB1","k":"c1","x":331931,"y":722},{"s":"gB1","k":"c1","x":331982,"y":718},{"s":"gB1","k":"c1","x":332109,"y":717},{"s":"gB1","k":"c1","x":332185,"y":715},{"s":"gB1","k":"c1","x":332236,"y":715},{"s":"gB1","k":"c1","x":332287,"y":719},{"s":"gB1","k":"c1","x":332338,"y":718},{"s":"gB1","k":"c1","x":332414,"y":717},{"s":"gB1","k":"c1","x":332500,"y":716.5},
{"s":"bA2","k":"ctl","x":330001,"y":913},{"s":"bA2","k":"ctl","x":330064,"y":913},{"s":"bA2","k":"ctl","x":330128,"y":912},{"s":"bA2","k":"ctl","x":330191,"y":910},{"s":"bA2","k":"ctl","x":330255,"y":908},{"s":"bA2","k":"ctl","x":330318,"y":906.5},{"s":"bA2","k":"ctl","x":330382,"y":907},{"s":"bA2","k":"ctl","x":330445,"y":910},{"s":"bA2","k":"ctl","x":330509,"y":907},{"s":"bA2","k":"ctl","x":330572,"y":905.5},{"s":"bA2","k":"ctl","x":330636,"y":908},{"s":"bA2","k":"ctl","x":330699,"y":909},{"s":"bA2","k":"ctl","x":330763,"y":909},{"s":"bA2","k":"ctl","x":330826,"y":900.5},{"s":"bA2","k":"ctl","x":330890,"y":901},{"s":"bA2","k":"ctl","x":330953,"y":900.5},{"s":"bA2","k":"ctl","x":331017,"y":900},{"s":"bA2","k":"ctl","x":331080,"y":900.5},{"s":"bA2","k":"ctl","x":331144,"y":901},{"s":"bA2","k":"ctl","x":331207,"y":903},{"s":"bA2","k":"ctl","x":331233,"y":908},{"s":"bA2","k":"ctl","x":331258,"y":920},{"s":"bA2","k":"ctl","x":331284,"y":930},{"s":"bA2","k":"ctl","x":331309,"y":929},{"s":"bA2","k":"ctl","x":331334,"y":925},{"s":"bA2","k":"ctl","x":331372,"y":915},{"s":"bA2","k":"ctl","x":331423,"y":912},{"s":"bA2","k":"ctl","x":331474,"y":911},{"s":"bA2","k":"ctl","x":331499,"y":913},{"s":"bA2","k":"ctl","x":331525,"y":909},{"s":"bA2","k":"ctl","x":331576,"y":920},{"s":"bA2","k":"ctl","x":331626,"y":923},{"s":"bA2","k":"ctl","x":331652,"y":927},{"s":"bA2","k":"ctl","x":331677,"y":923},{"s":"bA2","k":"ctl","x":331728,"y":921},{"s":"bA2","k":"ctl","x":331804,"y":922},{"s":"bA2","k":"ctl","x":331880,"y":921},{"s":"bA2","k":"ctl","x":331957,"y":923},{"s":"bA2","k":"ctl","x":331982,"y":924},{"s":"bA2","k":"ctl","x":332033,"y":922},{"s":"bA2","k":"ctl","x":332109,"y":919.5},{"s":"bA2","k":"ctl","x":332185,"y":919},{"s":"bA2","k":"ctl","x":332261,"y":918},{"s":"bA2","k":"ctl","x":332338,"y":922},{"s":"bA2","k":"ctl","x":332414,"y":923},{"s":"bA2","k":"ctl","x":332500,"y":919},
{"s":"bA1","k":"c2","x":330001,"y":914},{"s":"bA1","k":"c2","x":330064,"y":914},{"s":"bA1","k":"c2","x":330128,"y":915},{"s":"bA1","k":"c2","x":330191,"y":913},{"s":"bA1","k":"c2","x":330255,"y":911},{"s":"bA1","k":"c2","x":330318,"y":910},{"s":"bA1","k":"c2","x":330382,"y":908},{"s":"bA1","k":"c2","x":330445,"y":910},{"s":"bA1","k":"c2","x":330509,"y":910},{"s":"bA1","k":"c2","x":330572,"y":909},{"s":"bA1","k":"c2","x":330636,"y":912},{"s":"bA1","k":"c2","x":330699,"y":911},{"s":"bA1","k":"c2","x":330763,"y":911},{"s":"bA1","k":"c2","x":330826,"y":902},{"s":"bA1","k":"c2","x":330890,"y":902},{"s":"bA1","k":"c2","x":330953,"y":902},{"s":"bA1","k":"c2","x":331017,"y":901},{"s":"bA1","k":"c2","x":331080,"y":902},{"s":"bA1","k":"c2","x":331144,"y":903},{"s":"bA1","k":"c2","x":331207,"y":905},{"s":"bA1","k":"c2","x":331233,"y":910},{"s":"bA1","k":"c2","x":331258,"y":918},{"s":"bA1","k":"c2","x":331284,"y":925},{"s":"bA1","k":"c2","x":331309,"y":926},{"s":"bA1","k":"c2","x":331334,"y":924},{"s":"bA1","k":"c2","x":331372,"y":918},{"s":"bA1","k":"c2","x":331423,"y":915},{"s":"bA1","k":"c2","x":331474,"y":914},{"s":"bA1","k":"c2","x":331525,"y":914},{"s":"bA1","k":"c2","x":331576,"y":920},{"s":"bA1","k":"c2","x":331626,"y":921},{"s":"bA1","k":"c2","x":331677,"y":921},{"s":"bA1","k":"c2","x":331728,"y":921},{"s":"bA1","k":"c2","x":331804,"y":922},{"s":"bA1","k":"c2","x":331880,"y":920.5},{"s":"bA1","k":"c2","x":331957,"y":922},{"s":"bA1","k":"c2","x":332033,"y":922},{"s":"bA1","k":"c2","x":332109,"y":921},{"s":"bA1","k":"c2","x":332185,"y":920},{"s":"bA1","k":"c2","x":332261,"y":920},{"s":"bA1","k":"c2","x":332338,"y":920.5},{"s":"bA1","k":"c2","x":332414,"y":921},{"s":"bA1","k":"c2","x":332500,"y":920},
{"s":"bA3","k":"c2","x":330001,"y":915},{"s":"bA3","k":"c2","x":330128,"y":916},{"s":"bA3","k":"c2","x":330191,"y":914.5},{"s":"bA3","k":"c2","x":330255,"y":913},{"s":"bA3","k":"c2","x":330318,"y":911},{"s":"bA3","k":"c2","x":330382,"y":909},{"s":"bA3","k":"c2","x":330445,"y":911},{"s":"bA3","k":"c2","x":330572,"y":910.5},{"s":"bA3","k":"c2","x":330636,"y":913},{"s":"bA3","k":"c2","x":330763,"y":912},{"s":"bA3","k":"c2","x":330826,"y":903.5},{"s":"bA3","k":"c2","x":331017,"y":902.5},{"s":"bA3","k":"c2","x":331144,"y":904},{"s":"bA3","k":"c2","x":331207,"y":906.5},{"s":"bA3","k":"c2","x":331233,"y":912},{"s":"bA3","k":"c2","x":331258,"y":921},{"s":"bA3","k":"c2","x":331284,"y":927},{"s":"bA3","k":"c2","x":331309,"y":927.5},{"s":"bA3","k":"c2","x":331334,"y":925},{"s":"bA3","k":"c2","x":331372,"y":919},{"s":"bA3","k":"c2","x":331423,"y":916},{"s":"bA3","k":"c2","x":331474,"y":915.5},{"s":"bA3","k":"c2","x":331525,"y":915},{"s":"bA3","k":"c2","x":331576,"y":921},{"s":"bA3","k":"c2","x":331677,"y":922},{"s":"bA3","k":"c2","x":331804,"y":923},{"s":"bA3","k":"c2","x":331957,"y":923},{"s":"bA3","k":"c2","x":332109,"y":922},{"s":"bA3","k":"c2","x":332261,"y":921},{"s":"bA3","k":"c2","x":332414,"y":922},{"s":"bA3","k":"c2","x":332500,"y":921},
{"s":"bB2","k":"ctl","x":330001,"y":1002},{"s":"bB2","k":"ctl","x":330064,"y":1004},{"s":"bB2","k":"ctl","x":330128,"y":1004.5},{"s":"bB2","k":"ctl","x":330191,"y":1004},{"s":"bB2","k":"ctl","x":330255,"y":1005},{"s":"bB2","k":"ctl","x":330318,"y":1003},{"s":"bB2","k":"ctl","x":330356,"y":999},{"s":"bB2","k":"ctl","x":330395,"y":1006},{"s":"bB2","k":"ctl","x":330420,"y":1003},{"s":"bB2","k":"ctl","x":330445,"y":1001},{"s":"bB2","k":"ctl","x":330509,"y":1001},{"s":"bB2","k":"ctl","x":330572,"y":1002},{"s":"bB2","k":"ctl","x":330636,"y":1004},{"s":"bB2","k":"ctl","x":330699,"y":1004},{"s":"bB2","k":"ctl","x":330763,"y":1005},{"s":"bB2","k":"ctl","x":330826,"y":1007},{"s":"bB2","k":"ctl","x":330890,"y":1006.5},{"s":"bB2","k":"ctl","x":330953,"y":1003},{"s":"bB2","k":"ctl","x":331017,"y":999},{"s":"bB2","k":"ctl","x":331080,"y":1001},{"s":"bB2","k":"ctl","x":331144,"y":1004},{"s":"bB2","k":"ctl","x":331207,"y":1004},{"s":"bB2","k":"ctl","x":331258,"y":1007},{"s":"bB2","k":"ctl","x":331284,"y":1008},{"s":"bB2","k":"ctl","x":331309,"y":1005},{"s":"bB2","k":"ctl","x":331334,"y":990},{"s":"bB2","k":"ctl","x":331372,"y":987},{"s":"bB2","k":"ctl","x":331423,"y":985},{"s":"bB2","k":"ctl","x":331474,"y":977},{"s":"bB2","k":"ctl","x":331525,"y":977},{"s":"bB2","k":"ctl","x":331563,"y":985},{"s":"bB2","k":"ctl","x":331601,"y":982},{"s":"bB2","k":"ctl","x":331677,"y":980},{"s":"bB2","k":"ctl","x":331728,"y":980},{"s":"bB2","k":"ctl","x":331804,"y":978},{"s":"bB2","k":"ctl","x":331880,"y":976},{"s":"bB2","k":"ctl","x":331906,"y":975},{"s":"bB2","k":"ctl","x":331957,"y":979},{"s":"bB2","k":"ctl","x":332033,"y":978},{"s":"bB2","k":"ctl","x":332109,"y":977},{"s":"bB2","k":"ctl","x":332185,"y":974},{"s":"bB2","k":"ctl","x":332236,"y":973},{"s":"bB2","k":"ctl","x":332287,"y":980},{"s":"bB2","k":"ctl","x":332338,"y":977},{"s":"bB2","k":"ctl","x":332414,"y":977},{"s":"bB2","k":"ctl","x":332500,"y":980},
{"s":"bB3","k":"ctl","x":330001,"y":1000},{"s":"bB3","k":"ctl","x":330064,"y":1001},{"s":"bB3","k":"ctl","x":330191,"y":1001.5},{"s":"bB3","k":"ctl","x":330255,"y":1002},{"s":"bB3","k":"ctl","x":330318,"y":1001},{"s":"bB3","k":"ctl","x":330356,"y":997},{"s":"bB3","k":"ctl","x":330395,"y":1003},{"s":"bB3","k":"ctl","x":330445,"y":1000},{"s":"bB3","k":"ctl","x":330572,"y":1000.5},{"s":"bB3","k":"ctl","x":330699,"y":1001},{"s":"bB3","k":"ctl","x":330826,"y":1003},{"s":"bB3","k":"ctl","x":330953,"y":1001},{"s":"bB3","k":"ctl","x":331017,"y":998.5},{"s":"bB3","k":"ctl","x":331144,"y":1001},{"s":"bB3","k":"ctl","x":331207,"y":1001.5},{"s":"bB3","k":"ctl","x":331258,"y":1004},{"s":"bB3","k":"ctl","x":331284,"y":1006},{"s":"bB3","k":"ctl","x":331309,"y":1004},{"s":"bB3","k":"ctl","x":331334,"y":989},{"s":"bB3","k":"ctl","x":331372,"y":985.5},{"s":"bB3","k":"ctl","x":331423,"y":983},{"s":"bB3","k":"ctl","x":331474,"y":976.5},{"s":"bB3","k":"ctl","x":331525,"y":978},{"s":"bB3","k":"ctl","x":331563,"y":984},{"s":"bB3","k":"ctl","x":331626,"y":981},{"s":"bB3","k":"ctl","x":331728,"y":979},{"s":"bB3","k":"ctl","x":331880,"y":977},{"s":"bB3","k":"ctl","x":332033,"y":977},{"s":"bB3","k":"ctl","x":332185,"y":975},{"s":"bB3","k":"ctl","x":332236,"y":974},{"s":"bB3","k":"ctl","x":332287,"y":979},{"s":"bB3","k":"ctl","x":332414,"y":978},{"s":"bB3","k":"ctl","x":332500,"y":979},
{"s":"bB1","k":"c2","x":330001,"y":998},{"s":"bB1","k":"c2","x":330064,"y":999},{"s":"bB1","k":"c2","x":330191,"y":999},{"s":"bB1","k":"c2","x":330318,"y":998.5},{"s":"bB1","k":"c2","x":330356,"y":996},{"s":"bB1","k":"c2","x":330382,"y":998},{"s":"bB1","k":"c2","x":330445,"y":998.5},{"s":"bB1","k":"c2","x":330509,"y":998},{"s":"bB1","k":"c2","x":330636,"y":999},{"s":"bB1","k":"c2","x":330699,"y":998},{"s":"bB1","k":"c2","x":330826,"y":998},{"s":"bB1","k":"c2","x":331017,"y":998},{"s":"bB1","k":"c2","x":331080,"y":997.5},{"s":"bB1","k":"c2","x":331207,"y":997},{"s":"bB1","k":"c2","x":331258,"y":1000},{"s":"bB1","k":"c2","x":331284,"y":1002},{"s":"bB1","k":"c2","x":331309,"y":1005},{"s":"bB1","k":"c2","x":331334,"y":990},{"s":"bB1","k":"c2","x":331372,"y":986},{"s":"bB1","k":"c2","x":331423,"y":984},{"s":"bB1","k":"c2","x":331474,"y":978},{"s":"bB1","k":"c2","x":331525,"y":984},{"s":"bB1","k":"c2","x":331563,"y":984},{"s":"bB1","k":"c2","x":331576,"y":983},{"s":"bB1","k":"c2","x":331626,"y":980},{"s":"bB1","k":"c2","x":331728,"y":980},{"s":"bB1","k":"c2","x":331804,"y":979},{"s":"bB1","k":"c2","x":331880,"y":978},{"s":"bB1","k":"c2","x":331957,"y":977},{"s":"bB1","k":"c2","x":332033,"y":976.5},{"s":"bB1","k":"c2","x":332109,"y":975},{"s":"bB1","k":"c2","x":332185,"y":974},{"s":"bB1","k":"c2","x":332236,"y":975},{"s":"bB1","k":"c2","x":332261,"y":979},{"s":"bB1","k":"c2","x":332312,"y":978},{"s":"bB1","k":"c2","x":332388,"y":979},{"s":"bB1","k":"c2","x":332500,"y":980},
{"s":"rA2","k":"ctl","x":330001,"y":1150},{"s":"rA2","k":"ctl","x":330064,"y":1150},{"s":"rA2","k":"ctl","x":330128,"y":1150.5},{"s":"rA2","k":"ctl","x":330191,"y":1149.5},{"s":"rA2","k":"ctl","x":330255,"y":1149},{"s":"rA2","k":"ctl","x":330318,"y":1150},{"s":"rA2","k":"ctl","x":330356,"y":1146},{"s":"rA2","k":"ctl","x":330382,"y":1148},{"s":"rA2","k":"ctl","x":330407,"y":1155},{"s":"rA2","k":"ctl","x":330445,"y":1155},{"s":"rA2","k":"ctl","x":330509,"y":1151},{"s":"rA2","k":"ctl","x":330572,"y":1150},{"s":"rA2","k":"ctl","x":330636,"y":1150.5},{"s":"rA2","k":"ctl","x":330661,"y":1156},{"s":"rA2","k":"ctl","x":330699,"y":1152},{"s":"rA2","k":"ctl","x":330763,"y":1151},{"s":"rA2","k":"ctl","x":330826,"y":1152},{"s":"rA2","k":"ctl","x":330890,"y":1152},{"s":"rA2","k":"ctl","x":330953,"y":1152},{"s":"rA2","k":"ctl","x":331017,"y":1153},{"s":"rA2","k":"ctl","x":331080,"y":1153},{"s":"rA2","k":"ctl","x":331144,"y":1153},{"s":"rA2","k":"ctl","x":331207,"y":1153},{"s":"rA2","k":"ctl","x":331233,"y":1155},{"s":"rA2","k":"ctl","x":331258,"y":1162},{"s":"rA2","k":"ctl","x":331284,"y":1175},{"s":"rA2","k":"ctl","x":331309,"y":1181},{"s":"rA2","k":"ctl","x":331334,"y":1179},{"s":"rA2","k":"ctl","x":331372,"y":1172},{"s":"rA2","k":"ctl","x":331423,"y":1165},{"s":"rA2","k":"ctl","x":331474,"y":1163},{"s":"rA2","k":"ctl","x":331525,"y":1163},{"s":"rA2","k":"ctl","x":331563,"y":1170},{"s":"rA2","k":"ctl","x":331601,"y":1169},{"s":"rA2","k":"ctl","x":331677,"y":1166},{"s":"rA2","k":"ctl","x":331728,"y":1165},{"s":"rA2","k":"ctl","x":331804,"y":1166},{"s":"rA2","k":"ctl","x":331880,"y":1166},{"s":"rA2","k":"ctl","x":331906,"y":1164},{"s":"rA2","k":"ctl","x":331957,"y":1168},{"s":"rA2","k":"ctl","x":332033,"y":1172},{"s":"rA2","k":"ctl","x":332109,"y":1166},{"s":"rA2","k":"ctl","x":332185,"y":1166},{"s":"rA2","k":"ctl","x":332261,"y":1169},{"s":"rA2","k":"ctl","x":332312,"y":1175},{"s":"rA2","k":"ctl","x":332363,"y":1167},{"s":"rA2","k":"ctl","x":332414,"y":1169},{"s":"rA2","k":"ctl","x":332500,"y":1173},
{"s":"rA1","k":"c3","x":330001,"y":1151},{"s":"rA1","k":"c3","x":330039,"y":1155},{"s":"rA1","k":"c3","x":330064,"y":1152},{"s":"rA1","k":"c3","x":330128,"y":1152},{"s":"rA1","k":"c3","x":330191,"y":1151.5},{"s":"rA1","k":"c3","x":330255,"y":1150},{"s":"rA1","k":"c3","x":330318,"y":1150},{"s":"rA1","k":"c3","x":330356,"y":1149},{"s":"rA1","k":"c3","x":330382,"y":1147},{"s":"rA1","k":"c3","x":330407,"y":1155},{"s":"rA1","k":"c3","x":330445,"y":1155},{"s":"rA1","k":"c3","x":330509,"y":1153},{"s":"rA1","k":"c3","x":330572,"y":1153},{"s":"rA1","k":"c3","x":330636,"y":1154},{"s":"rA1","k":"c3","x":330661,"y":1159},{"s":"rA1","k":"c3","x":330699,"y":1155},{"s":"rA1","k":"c3","x":330763,"y":1155},{"s":"rA1","k":"c3","x":330826,"y":1156},{"s":"rA1","k":"c3","x":330890,"y":1157},{"s":"rA1","k":"c3","x":330953,"y":1156},{"s":"rA1","k":"c3","x":331017,"y":1155},{"s":"rA1","k":"c3","x":331080,"y":1155},{"s":"rA1","k":"c3","x":331144,"y":1154},{"s":"rA1","k":"c3","x":331207,"y":1155},{"s":"rA1","k":"c3","x":331233,"y":1157},{"s":"rA1","k":"c3","x":331258,"y":1165},{"s":"rA1","k":"c3","x":331284,"y":1175},{"s":"rA1","k":"c3","x":331309,"y":1179},{"s":"rA1","k":"c3","x":331334,"y":1178},{"s":"rA1","k":"c3","x":331372,"y":1172},{"s":"rA1","k":"c3","x":331423,"y":1167},{"s":"rA1","k":"c3","x":331474,"y":1166},{"s":"rA1","k":"c3","x":331525,"y":1167},{"s":"rA1","k":"c3","x":331576,"y":1172},{"s":"rA1","k":"c3","x":331626,"y":1170},{"s":"rA1","k":"c3","x":331677,"y":1171},{"s":"rA1","k":"c3","x":331728,"y":1169},{"s":"rA1","k":"c3","x":331804,"y":1168},{"s":"rA1","k":"c3","x":331880,"y":1169},{"s":"rA1","k":"c3","x":331957,"y":1171},{"s":"rA1","k":"c3","x":332007,"y":1174},{"s":"rA1","k":"c3","x":332033,"y":1175},{"s":"rA1","k":"c3","x":332109,"y":1170},{"s":"rA1","k":"c3","x":332185,"y":1168},{"s":"rA1","k":"c3","x":332261,"y":1170},{"s":"rA1","k":"c3","x":332312,"y":1174},{"s":"rA1","k":"c3","x":332338,"y":1172},{"s":"rA1","k":"c3","x":332388,"y":1168},{"s":"rA1","k":"c3","x":332414,"y":1169},{"s":"rA1","k":"c3","x":332500,"y":1174},
{"s":"rA3","k":"c3","x":330001,"y":1152},{"s":"rA3","k":"c3","x":330064,"y":1153},{"s":"rA3","k":"c3","x":330191,"y":1152},{"s":"rA3","k":"c3","x":330318,"y":1151},{"s":"rA3","k":"c3","x":330382,"y":1148},{"s":"rA3","k":"c3","x":330407,"y":1156},{"s":"rA3","k":"c3","x":330509,"y":1154},{"s":"rA3","k":"c3","x":330636,"y":1155},{"s":"rA3","k":"c3","x":330661,"y":1160},{"s":"rA3","k":"c3","x":330699,"y":1157},{"s":"rA3","k":"c3","x":330826,"y":1158},{"s":"rA3","k":"c3","x":330953,"y":1158},{"s":"rA3","k":"c3","x":331080,"y":1157},{"s":"rA3","k":"c3","x":331207,"y":1156},{"s":"rA3","k":"c3","x":331233,"y":1158},{"s":"rA3","k":"c3","x":331258,"y":1166},{"s":"rA3","k":"c3","x":331284,"y":1176},{"s":"rA3","k":"c3","x":331309,"y":1180},{"s":"rA3","k":"c3","x":331334,"y":1177},{"s":"rA3","k":"c3","x":331372,"y":1171},{"s":"rA3","k":"c3","x":331423,"y":1168},{"s":"rA3","k":"c3","x":331474,"y":1167},{"s":"rA3","k":"c3","x":331525,"y":1168},{"s":"rA3","k":"c3","x":331576,"y":1173},{"s":"rA3","k":"c3","x":331677,"y":1172},{"s":"rA3","k":"c3","x":331804,"y":1171},{"s":"rA3","k":"c3","x":331880,"y":1172},{"s":"rA3","k":"c3","x":331957,"y":1173},{"s":"rA3","k":"c3","x":332033,"y":1176},{"s":"rA3","k":"c3","x":332109,"y":1172},{"s":"rA3","k":"c3","x":332185,"y":1170},{"s":"rA3","k":"c3","x":332261,"y":1171},{"s":"rA3","k":"c3","x":332312,"y":1173},{"s":"rA3","k":"c3","x":332414,"y":1170},{"s":"rA3","k":"c3","x":332500,"y":1174.5},
{"s":"rB2","k":"ctl","x":330001,"y":1252.5},{"s":"rB2","k":"ctl","x":330064,"y":1252},{"s":"rB2","k":"ctl","x":330128,"y":1253},{"s":"rB2","k":"ctl","x":330191,"y":1253},{"s":"rB2","k":"ctl","x":330255,"y":1254},{"s":"rB2","k":"ctl","x":330318,"y":1252},{"s":"rB2","k":"ctl","x":330356,"y":1250},{"s":"rB2","k":"ctl","x":330382,"y":1252},{"s":"rB2","k":"ctl","x":330445,"y":1250},{"s":"rB2","k":"ctl","x":330509,"y":1249},{"s":"rB2","k":"ctl","x":330572,"y":1249},{"s":"rB2","k":"ctl","x":330636,"y":1251},{"s":"rB2","k":"ctl","x":330699,"y":1250},{"s":"rB2","k":"ctl","x":330763,"y":1250},{"s":"rB2","k":"ctl","x":330826,"y":1249},{"s":"rB2","k":"ctl","x":330890,"y":1251},{"s":"rB2","k":"ctl","x":330953,"y":1246},{"s":"rB2","k":"ctl","x":331017,"y":1245},{"s":"rB2","k":"ctl","x":331080,"y":1244},{"s":"rB2","k":"ctl","x":331144,"y":1245},{"s":"rB2","k":"ctl","x":331207,"y":1243},{"s":"rB2","k":"ctl","x":331245,"y":1245},{"s":"rB2","k":"ctl","x":331284,"y":1257},{"s":"rB2","k":"ctl","x":331309,"y":1259},{"s":"rB2","k":"ctl","x":331334,"y":1250},{"s":"rB2","k":"ctl","x":331372,"y":1237},{"s":"rB2","k":"ctl","x":331423,"y":1234},{"s":"rB2","k":"ctl","x":331474,"y":1231},{"s":"rB2","k":"ctl","x":331525,"y":1229},{"s":"rB2","k":"ctl","x":331550,"y":1238},{"s":"rB2","k":"ctl","x":331576,"y":1241},{"s":"rB2","k":"ctl","x":331626,"y":1234},{"s":"rB2","k":"ctl","x":331677,"y":1236},{"s":"rB2","k":"ctl","x":331728,"y":1233},{"s":"rB2","k":"ctl","x":331804,"y":1233},{"s":"rB2","k":"ctl","x":331880,"y":1233},{"s":"rB2","k":"ctl","x":331957,"y":1236},{"s":"rB2","k":"ctl","x":332033,"y":1232},{"s":"rB2","k":"ctl","x":332109,"y":1231},{"s":"rB2","k":"ctl","x":332185,"y":1228},{"s":"rB2","k":"ctl","x":332218,"y":1228},{"s":"rB2","k":"ctl","x":332261,"y":1233},{"s":"rB2","k":"ctl","x":332300,"y":1239},{"s":"rB2","k":"ctl","x":332338,"y":1235},{"s":"rB2","k":"ctl","x":332414,"y":1236},{"s":"rB2","k":"ctl","x":332500,"y":1231},
{"s":"rB3","k":"ctl","x":330001,"y":1250.5},{"s":"rB3","k":"ctl","x":330064,"y":1250},{"s":"rB3","k":"ctl","x":330191,"y":1251},{"s":"rB3","k":"ctl","x":330255,"y":1252},{"s":"rB3","k":"ctl","x":330318,"y":1250},{"s":"rB3","k":"ctl","x":330356,"y":1247},{"s":"rB3","k":"ctl","x":330382,"y":1249},{"s":"rB3","k":"ctl","x":330445,"y":1248},{"s":"rB3","k":"ctl","x":330509,"y":1246},{"s":"rB3","k":"ctl","x":330636,"y":1248},{"s":"rB3","k":"ctl","x":330699,"y":1247},{"s":"rB3","k":"ctl","x":330763,"y":1248},{"s":"rB3","k":"ctl","x":330826,"y":1246},{"s":"rB3","k":"ctl","x":330890,"y":1248},{"s":"rB3","k":"ctl","x":330953,"y":1244},{"s":"rB3","k":"ctl","x":331017,"y":1243},{"s":"rB3","k":"ctl","x":331080,"y":1242},{"s":"rB3","k":"ctl","x":331144,"y":1243},{"s":"rB3","k":"ctl","x":331207,"y":1241},{"s":"rB3","k":"ctl","x":331245,"y":1244},{"s":"rB3","k":"ctl","x":331284,"y":1256},{"s":"rB3","k":"ctl","x":331309,"y":1258},{"s":"rB3","k":"ctl","x":331334,"y":1249},{"s":"rB3","k":"ctl","x":331372,"y":1236},{"s":"rB3","k":"ctl","x":331423,"y":1233},{"s":"rB3","k":"ctl","x":331474,"y":1230.5},{"s":"rB3","k":"ctl","x":331525,"y":1228.5},{"s":"rB3","k":"ctl","x":331550,"y":1237},{"s":"rB3","k":"ctl","x":331576,"y":1240},{"s":"rB3","k":"ctl","x":331626,"y":1233.5},{"s":"rB3","k":"ctl","x":331728,"y":1232},{"s":"rB3","k":"ctl","x":331880,"y":1232},{"s":"rB3","k":"ctl","x":331957,"y":1235},{"s":"rB3","k":"ctl","x":332033,"y":1231},{"s":"rB3","k":"ctl","x":332185,"y":1227.5},{"s":"rB3","k":"ctl","x":332261,"y":1232},{"s":"rB3","k":"ctl","x":332300,"y":1238},{"s":"rB3","k":"ctl","x":332338,"y":1234},{"s":"rB3","k":"ctl","x":332414,"y":1234},{"s":"rB3","k":"ctl","x":332500,"y":1230},
{"s":"rB1","k":"c3","x":330001,"y":1246.5},{"s":"rB1","k":"c3","x":330064,"y":1247},{"s":"rB1","k":"c3","x":330128,"y":1247},{"s":"rB1","k":"c3","x":330191,"y":1248},{"s":"rB1","k":"c3","x":330255,"y":1248},{"s":"rB1","k":"c3","x":330318,"y":1246},{"s":"rB1","k":"c3","x":330356,"y":1242},{"s":"rB1","k":"c3","x":330382,"y":1240},{"s":"rB1","k":"c3","x":330407,"y":1244},{"s":"rB1","k":"c3","x":330445,"y":1248},{"s":"rB1","k":"c3","x":330509,"y":1241},{"s":"rB1","k":"c3","x":330572,"y":1240},{"s":"rB1","k":"c3","x":330636,"y":1240},{"s":"rB1","k":"c3","x":330699,"y":1243},{"s":"rB1","k":"c3","x":330763,"y":1245},{"s":"rB1","k":"c3","x":330826,"y":1240},{"s":"rB1","k":"c3","x":330890,"y":1240},{"s":"rB1","k":"c3","x":330953,"y":1239},{"s":"rB1","k":"c3","x":331017,"y":1239.5},{"s":"rB1","k":"c3","x":331080,"y":1238.5},{"s":"rB1","k":"c3","x":331144,"y":1238},{"s":"rB1","k":"c3","x":331207,"y":1238},{"s":"rB1","k":"c3","x":331245,"y":1242},{"s":"rB1","k":"c3","x":331284,"y":1254},{"s":"rB1","k":"c3","x":331309,"y":1256},{"s":"rB1","k":"c3","x":331334,"y":1248},{"s":"rB1","k":"c3","x":331372,"y":1236},{"s":"rB1","k":"c3","x":331423,"y":1234},{"s":"rB1","k":"c3","x":331474,"y":1232},{"s":"rB1","k":"c3","x":331525,"y":1229},{"s":"rB1","k":"c3","x":331550,"y":1236},{"s":"rB1","k":"c3","x":331576,"y":1240},{"s":"rB1","k":"c3","x":331626,"y":1233},{"s":"rB1","k":"c3","x":331677,"y":1234},{"s":"rB1","k":"c3","x":331728,"y":1231},{"s":"rB1","k":"c3","x":331804,"y":1231},{"s":"rB1","k":"c3","x":331880,"y":1230},{"s":"rB1","k":"c3","x":331957,"y":1235},{"s":"rB1","k":"c3","x":332033,"y":1230},{"s":"rB1","k":"c3","x":332109,"y":1229},{"s":"rB1","k":"c3","x":332185,"y":1227},{"s":"rB1","k":"c3","x":332218,"y":1226},{"s":"rB1","k":"c3","x":332261,"y":1230},{"s":"rB1","k":"c3","x":332300,"y":1236},{"s":"rB1","k":"c3","x":332338,"y":1233},{"s":"rB1","k":"c3","x":332414,"y":1232},{"s":"rB1","k":"c3","x":332500,"y":1229.5},
{"s":"yA3","k":"ctl","x":330001,"y":1434},{"s":"yA3","k":"ctl","x":330064,"y":1434},{"s":"yA3","k":"ctl","x":330128,"y":1433},{"s":"yA3","k":"ctl","x":330191,"y":1433},{"s":"yA3","k":"ctl","x":330255,"y":1434},{"s":"yA3","k":"ctl","x":330293,"y":1428},{"s":"yA3","k":"ctl","x":330318,"y":1428},{"s":"yA3","k":"ctl","x":330356,"y":1428},{"s":"yA3","k":"ctl","x":330382,"y":1430},{"s":"yA3","k":"ctl","x":330407,"y":1436},{"s":"yA3","k":"ctl","x":330445,"y":1438},{"s":"yA3","k":"ctl","x":330483,"y":1437},{"s":"yA3","k":"ctl","x":330509,"y":1434},{"s":"yA3","k":"ctl","x":330572,"y":1435},{"s":"yA3","k":"ctl","x":330636,"y":1435},{"s":"yA3","k":"ctl","x":330674,"y":1432},{"s":"yA3","k":"ctl","x":330699,"y":1427},{"s":"yA3","k":"ctl","x":330763,"y":1427},{"s":"yA3","k":"ctl","x":330826,"y":1428},{"s":"yA3","k":"ctl","x":330890,"y":1428},{"s":"yA3","k":"ctl","x":330953,"y":1427},{"s":"yA3","k":"ctl","x":331017,"y":1425},{"s":"yA3","k":"ctl","x":331055,"y":1423},{"s":"yA3","k":"ctl","x":331080,"y":1424},{"s":"yA3","k":"ctl","x":331144,"y":1425},{"s":"yA3","k":"ctl","x":331207,"y":1428},{"s":"yA3","k":"ctl","x":331245,"y":1431},{"s":"yA3","k":"ctl","x":331284,"y":1436},{"s":"yA3","k":"ctl","x":331334,"y":1440},{"s":"yA3","k":"ctl","x":331372,"y":1439},{"s":"yA3","k":"ctl","x":331411,"y":1430},{"s":"yA3","k":"ctl","x":331436,"y":1426},{"s":"yA3","k":"ctl","x":331474,"y":1427},{"s":"yA3","k":"ctl","x":331525,"y":1429},{"s":"yA3","k":"ctl","x":331550,"y":1438},{"s":"yA3","k":"ctl","x":331601,"y":1439},{"s":"yA3","k":"ctl","x":331652,"y":1437},{"s":"yA3","k":"ctl","x":331728,"y":1435},{"s":"yA3","k":"ctl","x":331779,"y":1433},{"s":"yA3","k":"ctl","x":331830,"y":1432},{"s":"yA3","k":"ctl","x":331880,"y":1433},{"s":"yA3","k":"ctl","x":331957,"y":1434},{"s":"yA3","k":"ctl","x":332033,"y":1433},{"s":"yA3","k":"ctl","x":332109,"y":1439},{"s":"yA3","k":"ctl","x":332160,"y":1441},{"s":"yA3","k":"ctl","x":332211,"y":1437},{"s":"yA3","k":"ctl","x":332261,"y":1436},{"s":"yA3","k":"ctl","x":332312,"y":1432},{"s":"yA3","k":"ctl","x":332350,"y":1427},{"s":"yA3","k":"ctl","x":332388,"y":1428},{"s":"yA3","k":"ctl","x":332427,"y":1434},{"s":"yA3","k":"ctl","x":332500,"y":1434},
{"s":"yA4","k":"ctl","x":330001,"y":1435},{"s":"yA4","k":"ctl","x":330128,"y":1434},{"s":"yA4","k":"ctl","x":330255,"y":1435},{"s":"yA4","k":"ctl","x":330293,"y":1430},{"s":"yA4","k":"ctl","x":330356,"y":1430},{"s":"yA4","k":"ctl","x":330407,"y":1437},{"s":"yA4","k":"ctl","x":330445,"y":1439},{"s":"yA4","k":"ctl","x":330509,"y":1435.5},{"s":"yA4","k":"ctl","x":330636,"y":1436},{"s":"yA4","k":"ctl","x":330699,"y":1429},{"s":"yA4","k":"ctl","x":330763,"y":1429},{"s":"yA4","k":"ctl","x":330890,"y":1429.5},{"s":"yA4","k":"ctl","x":331017,"y":1427},{"s":"yA4","k":"ctl","x":331080,"y":1426},{"s":"yA4","k":"ctl","x":331144,"y":1427},{"s":"yA4","k":"ctl","x":331207,"y":1430},{"s":"yA4","k":"ctl","x":331245,"y":1432.5},{"s":"yA4","k":"ctl","x":331284,"y":1437},{"s":"yA4","k":"ctl","x":331334,"y":1441},{"s":"yA4","k":"ctl","x":331372,"y":1440},{"s":"yA4","k":"ctl","x":331411,"y":1432},{"s":"yA4","k":"ctl","x":331436,"y":1428},{"s":"yA4","k":"ctl","x":331474,"y":1429},{"s":"yA4","k":"ctl","x":331525,"y":1431},{"s":"yA4","k":"ctl","x":331550,"y":1439},{"s":"yA4","k":"ctl","x":331601,"y":1440},{"s":"yA4","k":"ctl","x":331728,"y":1436},{"s":"yA4","k":"ctl","x":331880,"y":1434},{"s":"yA4","k":"ctl","x":331957,"y":1435},{"s":"yA4","k":"ctl","x":332033,"y":1434.5},{"s":"yA4","k":"ctl","x":332109,"y":1440},{"s":"yA4","k":"ctl","x":332160,"y":1442},{"s":"yA4","k":"ctl","x":332211,"y":1439},{"s":"yA4","k":"ctl","x":332261,"y":1437.5},{"s":"yA4","k":"ctl","x":332312,"y":1434},{"s":"yA4","k":"ctl","x":332350,"y":1429},{"s":"yA4","k":"ctl","x":332388,"y":1429.5},{"s":"yA4","k":"ctl","x":332427,"y":1435},{"s":"yA4","k":"ctl","x":332500,"y":1435},
{"s":"yA1","k":"c4","x":330001,"y":1435},{"s":"yA1","k":"c4","x":330128,"y":1434.5},{"s":"yA1","k":"c4","x":330255,"y":1434},{"s":"yA1","k":"c4","x":330445,"y":1434},{"s":"yA1","k":"c4","x":330509,"y":1433.5},{"s":"yA1","k":"c4","x":330636,"y":1434},{"s":"yA1","k":"c4","x":330699,"y":1435},{"s":"yA1","k":"c4","x":330826,"y":1434},{"s":"yA1","k":"c4","x":330890,"y":1435},{"s":"yA1","k":"c4","x":331017,"y":1434.5},{"s":"yA1","k":"c4","x":331080,"y":1433},{"s":"yA1","k":"c4","x":331144,"y":1432},{"s":"yA1","k":"c4","x":331207,"y":1431},{"s":"yA1","k":"c4","x":331271,"y":1430},{"s":"yA1","k":"c4","x":331334,"y":1437},{"s":"yA1","k":"c4","x":331372,"y":1438},{"s":"yA1","k":"c4","x":331423,"y":1438},{"s":"yA1","k":"c4","x":331474,"y":1433},{"s":"yA1","k":"c4","x":331525,"y":1432},{"s":"yA1","k":"c4","x":331576,"y":1436},{"s":"yA1","k":"c4","x":331626,"y":1436},{"s":"yA1","k":"c4","x":331728,"y":1435},{"s":"yA1","k":"c4","x":331804,"y":1435},{"s":"yA1","k":"c4","x":331880,"y":1435},{"s":"yA1","k":"c4","x":331957,"y":1435.5},{"s":"yA1","k":"c4","x":332033,"y":1436},{"s":"yA1","k":"c4","x":332109,"y":1436},{"s":"yA1","k":"c4","x":332185,"y":1437},{"s":"yA1","k":"c4","x":332261,"y":1434},{"s":"yA1","k":"c4","x":332338,"y":1431},{"s":"yA1","k":"c4","x":332388,"y":1431},{"s":"yA1","k":"c4","x":332439,"y":1435},{"s":"yA1","k":"c4","x":332500,"y":1434},
{"s":"yA2","k":"c4","x":330001,"y":1434},{"s":"yA2","k":"c4","x":330128,"y":1435},{"s":"yA2","k":"c4","x":330255,"y":1435},{"s":"yA2","k":"c4","x":330382,"y":1434},{"s":"yA2","k":"c4","x":330509,"y":1435},{"s":"yA2","k":"c4","x":330636,"y":1436},{"s":"yA2","k":"c4","x":330763,"y":1435.5},{"s":"yA2","k":"c4","x":330890,"y":1434},{"s":"yA2","k":"c4","x":331017,"y":1433},{"s":"yA2","k":"c4","x":331144,"y":1431.5},{"s":"yA2","k":"c4","x":331207,"y":1430.5},{"s":"yA2","k":"c4","x":331271,"y":1431},{"s":"yA2","k":"c4","x":331334,"y":1438},{"s":"yA2","k":"c4","x":331372,"y":1439},{"s":"yA2","k":"c4","x":331423,"y":1437},{"s":"yA2","k":"c4","x":331474,"y":1432},{"s":"yA2","k":"c4","x":331525,"y":1433},{"s":"yA2","k":"c4","x":331576,"y":1437},{"s":"yA2","k":"c4","x":331677,"y":1436.5},{"s":"yA2","k":"c4","x":331804,"y":1436},{"s":"yA2","k":"c4","x":331957,"y":1437},{"s":"yA2","k":"c4","x":332033,"y":1437.5},{"s":"yA2","k":"c4","x":332109,"y":1437},{"s":"yA2","k":"c4","x":332185,"y":1438},{"s":"yA2","k":"c4","x":332261,"y":1436},{"s":"yA2","k":"c4","x":332338,"y":1432},{"s":"yA2","k":"c4","x":332388,"y":1430},{"s":"yA2","k":"c4","x":332439,"y":1434},{"s":"yA2","k":"c4","x":332500,"y":1435},
{"s":"yB3","k":"ctl","x":330001,"y":1512},{"s":"yB3","k":"ctl","x":330064,"y":1511},{"s":"yB3","k":"ctl","x":330128,"y":1511},{"s":"yB3","k":"ctl","x":330191,"y":1512},{"s":"yB3","k":"ctl","x":330229,"y":1511},{"s":"yB3","k":"ctl","x":330280,"y":1506},{"s":"yB3","k":"ctl","x":330318,"y":1503},{"s":"yB3","k":"ctl","x":330369,"y":1500},{"s":"yB3","k":"ctl","x":330445,"y":1501},{"s":"yB3","k":"ctl","x":330509,"y":1505},{"s":"yB3","k":"ctl","x":330572,"y":1511},{"s":"yB3","k":"ctl","x":330636,"y":1512},{"s":"yB3","k":"ctl","x":330674,"y":1511},{"s":"yB3","k":"ctl","x":330712,"y":1508},{"s":"yB3","k":"ctl","x":330763,"y":1498},{"s":"yB3","k":"ctl","x":330801,"y":1488},{"s":"yB3","k":"ctl","x":330826,"y":1487},{"s":"yB3","k":"ctl","x":330877,"y":1490},{"s":"yB3","k":"ctl","x":330915,"y":1490},{"s":"yB3","k":"ctl","x":330953,"y":1501},{"s":"yB3","k":"ctl","x":331017,"y":1502},{"s":"yB3","k":"ctl","x":331080,"y":1502},{"s":"yB3","k":"ctl","x":331118,"y":1506},{"s":"yB3","k":"ctl","x":331169,"y":1498},{"s":"yB3","k":"ctl","x":331233,"y":1495},{"s":"yB3","k":"ctl","x":331258,"y":1497},{"s":"yB3","k":"ctl","x":331284,"y":1518},{"s":"yB3","k":"ctl","x":331334,"y":1517},{"s":"yB3","k":"ctl","x":331372,"y":1506},{"s":"yB3","k":"ctl","x":331423,"y":1496},{"s":"yB3","k":"ctl","x":331474,"y":1495},{"s":"yB3","k":"ctl","x":331525,"y":1498},{"s":"yB3","k":"ctl","x":331550,"y":1505},{"s":"yB3","k":"ctl","x":331601,"y":1500},{"s":"yB3","k":"ctl","x":331677,"y":1499},{"s":"yB3","k":"ctl","x":331779,"y":1497},{"s":"yB3","k":"ctl","x":331830,"y":1494},{"s":"yB3","k":"ctl","x":331880,"y":1494},{"s":"yB3","k":"ctl","x":331931,"y":1494},{"s":"yB3","k":"ctl","x":331957,"y":1503},{"s":"yB3","k":"ctl","x":331995,"y":1504},{"s":"yB3","k":"ctl","x":332033,"y":1494},{"s":"yB3","k":"ctl","x":332109,"y":1492},{"s":"yB3","k":"ctl","x":332160,"y":1490},{"s":"yB3","k":"ctl","x":332223,"y":1492},{"s":"yB3","k":"ctl","x":332261,"y":1500},{"s":"yB3","k":"ctl","x":332300,"y":1500},{"s":"yB3","k":"ctl","x":332338,"y":1492},{"s":"yB3","k":"ctl","x":332414,"y":1488},{"s":"yB3","k":"ctl","x":332500,"y":1486},
{"s":"yB4","k":"ctl","x":330001,"y":1511},{"s":"yB4","k":"ctl","x":330191,"y":1511},{"s":"yB4","k":"ctl","x":330255,"y":1513},{"s":"yB4","k":"ctl","x":330318,"y":1509},{"s":"yB4","k":"ctl","x":330445,"y":1504},{"s":"yB4","k":"ctl","x":330509,"y":1508},{"s":"yB4","k":"ctl","x":330572,"y":1510},{"s":"yB4","k":"ctl","x":330636,"y":1511},{"s":"yB4","k":"ctl","x":330712,"y":1509},{"s":"yB4","k":"ctl","x":330763,"y":1502},{"s":"yB4","k":"ctl","x":330801,"y":1492},{"s":"yB4","k":"ctl","x":330839,"y":1491},{"s":"yB4","k":"ctl","x":330915,"y":1492},{"s":"yB4","k":"ctl","x":330953,"y":1503},{"s":"yB4","k":"ctl","x":331080,"y":1503},{"s":"yB4","k":"ctl","x":331118,"y":1507},{"s":"yB4","k":"ctl","x":331169,"y":1501},{"s":"yB4","k":"ctl","x":331233,"y":1498},{"s":"yB4","k":"ctl","x":331258,"y":1499},{"s":"yB4","k":"ctl","x":331284,"y":1517},{"s":"yB4","k":"ctl","x":331334,"y":1516},{"s":"yB4","k":"ctl","x":331372,"y":1505},{"s":"yB4","k":"ctl","x":331423,"y":1497},{"s":"yB4","k":"ctl","x":331474,"y":1496.5},{"s":"yB4","k":"ctl","x":331525,"y":1499},{"s":"yB4","k":"ctl","x":331550,"y":1506},{"s":"yB4","k":"ctl","x":331601,"y":1502},{"s":"yB4","k":"ctl","x":331728,"y":1500},{"s":"yB4","k":"ctl","x":331830,"y":1496},{"s":"yB4","k":"ctl","x":331931,"y":1496},{"s":"yB4","k":"ctl","x":331957,"y":1504},{"s":"yB4","k":"ctl","x":331995,"y":1505},{"s":"yB4","k":"ctl","x":332033,"y":1496},{"s":"yB4","k":"ctl","x":332109,"y":1494},{"s":"yB4","k":"ctl","x":332160,"y":1492},{"s":"yB4","k":"ctl","x":332223,"y":1493},{"s":"yB4","k":"ctl","x":332261,"y":1498},{"s":"yB4","k":"ctl","x":332300,"y":1498.5},{"s":"yB4","k":"ctl","x":332338,"y":1493},{"s":"yB4","k":"ctl","x":332414,"y":1489},{"s":"yB4","k":"ctl","x":332500,"y":1487},
{"s":"yB1","k":"c4","x":330001,"y":1515},{"s":"yB1","k":"c4","x":330128,"y":1515},{"s":"yB1","k":"c4","x":330204,"y":1515},{"s":"yB1","k":"c4","x":330255,"y":1514},{"s":"yB1","k":"c4","x":330318,"y":1512},{"s":"yB1","k":"c4","x":330382,"y":1511},{"s":"yB1","k":"c4","x":330445,"y":1510},{"s":"yB1","k":"c4","x":330509,"y":1510},{"s":"yB1","k":"c4","x":330572,"y":1511},{"s":"yB1","k":"c4","x":330636,"y":1512},{"s":"yB1","k":"c4","x":330699,"y":1513},{"s":"yB1","k":"c4","x":330763,"y":1510},{"s":"yB1","k":"c4","x":330788,"y":1505},{"s":"yB1","k":"c4","x":330826,"y":1500},{"s":"yB1","k":"c4","x":330890,"y":1500},{"s":"yB1","k":"c4","x":330953,"y":1502},{"s":"yB1","k":"c4","x":331017,"y":1503},{"s":"yB1","k":"c4","x":331080,"y":1504},{"s":"yB1","k":"c4","x":331118,"y":1506},{"s":"yB1","k":"c4","x":331169,"y":1503},{"s":"yB1","k":"c4","x":331245,"y":1502},{"s":"yB1","k":"c4","x":331284,"y":1518},{"s":"yB1","k":"c4","x":331334,"y":1517},{"s":"yB1","k":"c4","x":331372,"y":1508},{"s":"yB1","k":"c4","x":331423,"y":1502},{"s":"yB1","k":"c4","x":331474,"y":1500},{"s":"yB1","k":"c4","x":331525,"y":1502},{"s":"yB1","k":"c4","x":331550,"y":1506},{"s":"yB1","k":"c4","x":331601,"y":1504},{"s":"yB1","k":"c4","x":331728,"y":1503},{"s":"yB1","k":"c4","x":331830,"y":1502},{"s":"yB1","k":"c4","x":331880,"y":1501},{"s":"yB1","k":"c4","x":331931,"y":1500},{"s":"yB1","k":"c4","x":331957,"y":1507},{"s":"yB1","k":"c4","x":331995,"y":1507},{"s":"yB1","k":"c4","x":332033,"y":1500},{"s":"yB1","k":"c4","x":332109,"y":1499},{"s":"yB1","k":"c4","x":332185,"y":1496},{"s":"yB1","k":"c4","x":332261,"y":1495},{"s":"yB1","k":"c4","x":332338,"y":1494},{"s":"yB1","k":"c4","x":332414,"y":1492},{"s":"yB1","k":"c4","x":332500,"y":1491},
{"s":"yB2","k":"c4","x":330001,"y":1514},{"s":"yB2","k":"c4","x":330128,"y":1514.5},{"s":"yB2","k":"c4","x":330255,"y":1513},{"s":"yB2","k":"c4","x":330318,"y":1513.5},{"s":"yB2","k":"c4","x":330382,"y":1512.5},{"s":"yB2","k":"c4","x":330445,"y":1511},{"s":"yB2","k":"c4","x":330572,"y":1512.5},{"s":"yB2","k":"c4","x":330699,"y":1514},{"s":"yB2","k":"c4","x":330763,"y":1512},{"s":"yB2","k":"c4","x":330788,"y":1507},{"s":"yB2","k":"c4","x":330826,"y":1502},{"s":"yB2","k":"c4","x":330953,"y":1503},{"s":"yB2","k":"c4","x":331080,"y":1505.5},{"s":"yB2","k":"c4","x":331118,"y":1507.5},{"s":"yB2","k":"c4","x":331169,"y":1505},{"s":"yB2","k":"c4","x":331245,"y":1504},{"s":"yB2","k":"c4","x":331284,"y":1518.5},{"s":"yB2","k":"c4","x":331334,"y":1517.5},{"s":"yB2","k":"c4","x":331372,"y":1509},{"s":"yB2","k":"c4","x":331423,"y":1503},{"s":"yB2","k":"c4","x":331474,"y":1501.5},{"s":"yB2","k":"c4","x":331550,"y":1508},{"s":"yB2","k":"c4","x":331601,"y":1506},{"s":"yB2","k":"c4","x":331728,"y":1505},{"s":"yB2","k":"c4","x":331880,"y":1503},{"s":"yB2","k":"c4","x":331931,"y":1503},{"s":"yB2","k":"c4","x":331957,"y":1508},{"s":"yB2","k":"c4","x":331995,"y":1509},{"s":"yB2","k":"c4","x":332033,"y":1503},{"s":"yB2","k":"c4","x":332109,"y":1502},{"s":"yB2","k":"c4","x":332185,"y":1499},{"s":"yB2","k":"c4","x":332261,"y":1497},{"s":"yB2","k":"c4","x":332338,"y":1496},{"s":"yB2","k":"c4","x":332414,"y":1493},{"s":"yB2","k":"c4","x":332500,"y":1492.5}
]
},
"encoding":{
"x":{"field":"x","type":"quantitative","scale":{"domain":[329950,332551],"nice":false,"zero":false},"axis":null},
"y":{"field":"y","type":"quantitative","scale":{"domain":[0,1640],"reverse":true,"nice":false,"zero":false},"axis":null}
},
"layer":[
{"data":{"name":"hrules"},"mark":{"type":"rule","strokeWidth":1},
 "encoding":{"x2":{"field":"x2"},"color":{"field":"k","type":"nominal","legend":null,
  "scale":{"domain":["ref","ctl","c1","c2","c3","c4","bx","rx","ax","p1","p3","p4","p5","p6","p7","p8","p9","p10","p11","p12","p13","p14","p16","p17","p18"],
  "range":["#a05a5a","#000000","#008a00","#1238d0","#d40000","#c8c800","#0000ff","#ff0000","#f07050","#cc5a1e","#9a9a00","#55ee00","#7f7f00","#c88a1e","#ff3030","#e87a60","#6fb2e4","#1c1c5c","#9a9ae6","#c0309a","#ff6eb4","#7e1e7e","#8b5a50","#a0a020","#f06040"]}}}},
{"data":{"name":"ticks"},"mark":{"type":"rule","color":"#000000","strokeWidth":1},
 "encoding":{"y2":{"field":"y2"}}},
{"data":{"name":"boxes"},"mark":{"type":"rect","filled":false,"strokeWidth":1.3},
 "encoding":{"x2":{"field":"x2"},"y2":{"field":"y2"},"color":{"field":"k","type":"nominal","legend":null,
  "scale":{"domain":["ref","ctl","c1","c2","c3","c4","bx","rx","ax","p1","p3","p4","p5","p6","p7","p8","p9","p10","p11","p12","p13","p14","p16","p17","p18"],
  "range":["#a05a5a","#000000","#008a00","#1238d0","#d40000","#c8c800","#0000ff","#ff0000","#f07050","#cc5a1e","#9a9a00","#55ee00","#7f7f00","#c88a1e","#ff3030","#e87a60","#6fb2e4","#1c1c5c","#9a9ae6","#c0309a","#ff6eb4","#7e1e7e","#8b5a50","#a0a020","#f06040"]}}}},
{"data":{"name":"bars"},"mark":{"type":"rect","color":"#008f00"},
 "encoding":{"x2":{"field":"x2"},"y2":{"field":"y2"}}},
{"data":{"name":"openarrows"},"mark":{"type":"area","fill":"#ffffff","stroke":"#000000","strokeWidth":1.3,"interpolate":"linear"},
 "encoding":{"y2":{"field":"y2"},"detail":{"field":"g"}}},
{"data":{"name":"filledarrows"},"mark":{"type":"area","fill":"#000000","stroke":"#000000","strokeWidth":1,"interpolate":"linear"},
 "encoding":{"y2":{"field":"y2"},"detail":{"field":"g"}}},
{"data":{"name":"vbars"},"mark":{"type":"rule","color":"#000000","strokeWidth":1.3},
 "encoding":{"y2":{"field":"y2"}}},
{"data":{"name":"multi"},"mark":{"type":"line","strokeWidth":1.5,"interpolate":"step-after"},
 "encoding":{"detail":{"field":"s"},"color":{"field":"k","type":"nominal","legend":null,
  "scale":{"domain":["ref","ctl","c1","c2","c3","c4","bx","rx","ax","p1","p3","p4","p5","p6","p7","p8","p9","p10","p11","p12","p13","p14","p16","p17","p18"],
  "range":["#a05a5a","#000000","#008a00","#1238d0","#d40000","#c8c800","#0000ff","#ff0000","#f07050","#cc5a1e","#9a9a00","#55ee00","#7f7f00","#c88a1e","#ff3030","#e87a60","#6fb2e4","#1c1c5c","#9a9ae6","#c0309a","#ff6eb4","#7e1e7e","#8b5a50","#a0a020","#f06040"]}}}},
{"data":{"name":"sig"},"mark":{"type":"line","strokeWidth":1,"interpolate":"linear"},
 "encoding":{"detail":{"field":"s"},"color":{"field":"k","type":"nominal","legend":null,
  "scale":{"domain":["ref","ctl","c1","c2","c3","c4","bx","rx","ax","p1","p3","p4","p5","p6","p7","p8","p9","p10","p11","p12","p13","p14","p16","p17","p18"],
  "range":["#a05a5a","#000000","#008a00","#1238d0","#d40000","#c8c800","#0000ff","#ff0000","#f07050","#cc5a1e","#9a9a00","#55ee00","#7f7f00","#c88a1e","#ff3030","#e87a60","#6fb2e4","#1c1c5c","#9a9ae6","#c0309a","#ff6eb4","#7e1e7e","#8b5a50","#a0a020","#f06040"]}}}},
{"data":{"name":"labels"},"mark":{"type":"text","font":"DejaVu Sans Mono","fontSize":10,"align":"center","baseline":"middle","color":"#000000"},
 "encoding":{"text":{"field":"t"}}},
{"data":{"name":"boldlabels"},"mark":{"type":"text","font":"DejaVu Sans Mono","fontSize":10,"fontWeight":"bold","align":"center","baseline":"middle","color":"#000000"},
 "encoding":{"text":{"field":"t"}}},
{"data":{"name":"leftlabels"},"mark":{"type":"text","font":"DejaVu Sans Mono","fontSize":10,"align":"left","baseline":"middle","color":"#000000"},
 "encoding":{"text":{"field":"t"}}},
{"data":{"name":"rightlabels"},"mark":{"type":"text","font":"DejaVu Sans Mono","fontSize":10,"align":"right","baseline":"middle","color":"#000000"},
 "encoding":{"text":{"field":"t"}}}
]
}
